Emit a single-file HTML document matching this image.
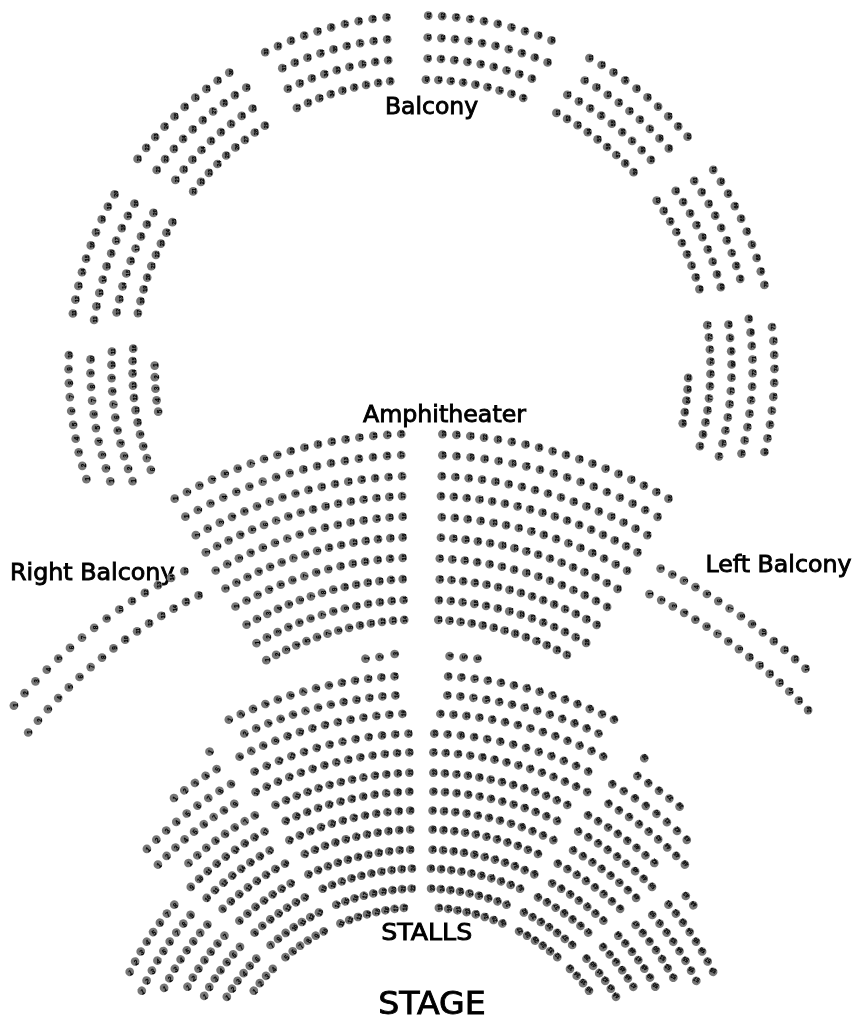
<!DOCTYPE html>
<html lang="en"><head><meta charset="utf-8"><title>Seating plan</title>
<style>
html,body{margin:0;padding:0;background:#fff}
svg{display:block;filter:grayscale(1)}
.s circle{fill:#777}
.s text{transform:rotate(-90deg) scaleX(.87);font:bold 6px "Liberation Sans","DejaVu Sans",sans-serif;fill:#000;stroke:#000;stroke-width:.25px;text-anchor:middle}
.s text.o{font-size:7.4px;stroke-width:.15px}
.l{font-family:"DejaVu Sans","Liberation Sans",sans-serif;fill:#000;stroke:#000;stroke-width:.9px}
</style></head><body>
<svg width="860" height="1020" viewBox="0 0 860 1020">
<text class="l" x="431.5" y="113.5" font-size="23.5" text-anchor="middle">Balcony</text>
<text class="l" x="363.0" y="421.8" font-size="23.5" text-anchor="start" textLength="163.0" lengthAdjust="spacingAndGlyphs">Amphitheater</text>
<text class="l" x="10.0" y="580.3" font-size="23.5" text-anchor="start" textLength="164.5" lengthAdjust="spacingAndGlyphs">Right Balcony</text>
<text class="l" x="705.5" y="572.3" font-size="23.5" text-anchor="start" textLength="146.0" lengthAdjust="spacingAndGlyphs">Left Balcony</text>
<text class="l" x="381.2" y="940.3" font-size="23.5" text-anchor="start" textLength="91.0" lengthAdjust="spacingAndGlyphs">STALLS</text>
<text class="l" x="378.2" y="1014.0" font-size="31.6" text-anchor="start" textLength="107.6" lengthAdjust="spacingAndGlyphs">STAGE</text>
<g class="s">
<g transform="translate(265.2 52.1)"><circle r="4.35"/><text x=".5" y="3.2">31</text></g>
<g transform="translate(278.0 46.1)"><circle r="4.35"/><text x=".5" y="3.2">32</text></g>
<g transform="translate(291.0 40.7)"><circle r="4.35"/><text x=".5" y="3.2">33</text></g>
<g transform="translate(304.2 35.7)"><circle r="4.35"/><text x=".5" y="3.2">34</text></g>
<g transform="translate(317.6 31.3)"><circle r="4.35"/><text x=".5" y="3.2">35</text></g>
<g transform="translate(331.2 27.4)"><circle r="4.35"/><text x=".5" y="3.2">36</text></g>
<g transform="translate(344.9 24.0)"><circle r="4.35"/><text x=".5" y="3.2">37</text></g>
<g transform="translate(358.7 21.2)"><circle r="4.35"/><text x=".5" y="3.2">38</text></g>
<g transform="translate(372.6 19.0)"><circle r="4.35"/><text x=".5" y="3.2">39</text></g>
<g transform="translate(386.6 17.3)"><circle r="4.35"/><text x=".5" y="3.2">40</text></g>
<g transform="translate(282.3 68.2)"><circle r="4.35"/><text x=".5" y="3.2">31</text></g>
<g transform="translate(294.8 62.7)"><circle r="4.35"/><text x=".5" y="3.2">32</text></g>
<g transform="translate(307.5 57.7)"><circle r="4.35"/><text x=".5" y="3.2">33</text></g>
<g transform="translate(320.5 53.3)"><circle r="4.35"/><text x=".5" y="3.2">34</text></g>
<g transform="translate(333.5 49.4)"><circle r="4.35"/><text x=".5" y="3.2">35</text></g>
<g transform="translate(346.8 46.0)"><circle r="4.35"/><text x=".5" y="3.2">36</text></g>
<g transform="translate(360.1 43.2)"><circle r="4.35"/><text x=".5" y="3.2">37</text></g>
<g transform="translate(373.6 41.0)"><circle r="4.35"/><text x=".5" y="3.2">38</text></g>
<g transform="translate(387.2 39.3)"><circle r="4.35"/><text x=".5" y="3.2">39</text></g>
<g transform="translate(287.9 88.7)"><circle r="4.35"/><text x=".5" y="3.2">31</text></g>
<g transform="translate(299.8 83.3)"><circle r="4.35"/><text x=".5" y="3.2">32</text></g>
<g transform="translate(311.9 78.4)"><circle r="4.35"/><text x=".5" y="3.2">33</text></g>
<g transform="translate(324.3 74.1)"><circle r="4.35"/><text x=".5" y="3.2">34</text></g>
<g transform="translate(336.8 70.2)"><circle r="4.35"/><text x=".5" y="3.2">35</text></g>
<g transform="translate(349.5 66.9)"><circle r="4.35"/><text x=".5" y="3.2">36</text></g>
<g transform="translate(362.3 64.1)"><circle r="4.35"/><text x=".5" y="3.2">37</text></g>
<g transform="translate(375.2 61.9)"><circle r="4.35"/><text x=".5" y="3.2">38</text></g>
<g transform="translate(388.2 60.2)"><circle r="4.35"/><text x=".5" y="3.2">39</text></g>
<g transform="translate(296.9 107.8)"><circle r="4.35"/><text x=".5" y="3.2">31</text></g>
<g transform="translate(308.0 102.8)"><circle r="4.35"/><text x=".5" y="3.2">32</text></g>
<g transform="translate(319.3 98.2)"><circle r="4.35"/><text x=".5" y="3.2">33</text></g>
<g transform="translate(330.8 94.1)"><circle r="4.35"/><text x=".5" y="3.2">34</text></g>
<g transform="translate(342.4 90.6)"><circle r="4.35"/><text x=".5" y="3.2">35</text></g>
<g transform="translate(354.2 87.5)"><circle r="4.35"/><text x=".5" y="3.2">36</text></g>
<g transform="translate(366.1 84.9)"><circle r="4.35"/><text x=".5" y="3.2">37</text></g>
<g transform="translate(378.2 82.8)"><circle r="4.35"/><text x=".5" y="3.2">38</text></g>
<g transform="translate(390.2 81.2)"><circle r="4.35"/><text x=".5" y="3.2">39</text></g>
<g transform="translate(428.2 15.7)"><circle r="4.35"/><text x=".5" y="3.2">41</text></g>
<g transform="translate(442.2 16.2)"><circle r="4.35"/><text x=".5" y="3.2">42</text></g>
<g transform="translate(456.2 17.3)"><circle r="4.35"/><text x=".5" y="3.2">43</text></g>
<g transform="translate(470.2 19.0)"><circle r="4.35"/><text x=".5" y="3.2">44</text></g>
<g transform="translate(484.0 21.2)"><circle r="4.35"/><text x=".5" y="3.2">45</text></g>
<g transform="translate(497.8 23.9)"><circle r="4.35"/><text x=".5" y="3.2">46</text></g>
<g transform="translate(511.5 27.3)"><circle r="4.35"/><text x=".5" y="3.2">47</text></g>
<g transform="translate(525.0 31.1)"><circle r="4.35"/><text x=".5" y="3.2">48</text></g>
<g transform="translate(538.3 35.5)"><circle r="4.35"/><text x=".5" y="3.2">49</text></g>
<g transform="translate(551.5 40.4)"><circle r="4.35"/><text x=".5" y="3.2">50</text></g>
<g transform="translate(427.7 37.5)"><circle r="4.35"/><text x=".5" y="3.2">41</text></g>
<g transform="translate(441.4 38.1)"><circle r="4.35"/><text x=".5" y="3.2">42</text></g>
<g transform="translate(455.0 39.2)"><circle r="4.35"/><text x=".5" y="3.2">43</text></g>
<g transform="translate(468.6 40.9)"><circle r="4.35"/><text x=".5" y="3.2">44</text></g>
<g transform="translate(482.1 43.1)"><circle r="4.35"/><text x=".5" y="3.2">45</text></g>
<g transform="translate(495.5 45.9)"><circle r="4.35"/><text x=".5" y="3.2">46</text></g>
<g transform="translate(508.8 49.2)"><circle r="4.35"/><text x=".5" y="3.2">47</text></g>
<g transform="translate(521.9 53.1)"><circle r="4.35"/><text x=".5" y="3.2">48</text></g>
<g transform="translate(534.8 57.5)"><circle r="4.35"/><text x=".5" y="3.2">49</text></g>
<g transform="translate(547.6 62.4)"><circle r="4.35"/><text x=".5" y="3.2">50</text></g>
<g transform="translate(427.7 58.5)"><circle r="4.35"/><text x=".5" y="3.2">41</text></g>
<g transform="translate(441.0 59.0)"><circle r="4.35"/><text x=".5" y="3.2">42</text></g>
<g transform="translate(454.3 60.2)"><circle r="4.35"/><text x=".5" y="3.2">43</text></g>
<g transform="translate(467.5 61.9)"><circle r="4.35"/><text x=".5" y="3.2">44</text></g>
<g transform="translate(480.7 64.1)"><circle r="4.35"/><text x=".5" y="3.2">45</text></g>
<g transform="translate(493.7 66.9)"><circle r="4.35"/><text x=".5" y="3.2">46</text></g>
<g transform="translate(506.6 70.3)"><circle r="4.35"/><text x=".5" y="3.2">47</text></g>
<g transform="translate(519.3 74.2)"><circle r="4.35"/><text x=".5" y="3.2">48</text></g>
<g transform="translate(531.9 78.7)"><circle r="4.35"/><text x=".5" y="3.2">49</text></g>
<g transform="translate(425.9 79.6)"><circle r="4.35"/><text x=".5" y="3.2">41</text></g>
<g transform="translate(438.4 80.0)"><circle r="4.35"/><text x=".5" y="3.2">42</text></g>
<g transform="translate(450.8 81.0)"><circle r="4.35"/><text x=".5" y="3.2">43</text></g>
<g transform="translate(463.1 82.5)"><circle r="4.35"/><text x=".5" y="3.2">44</text></g>
<g transform="translate(475.4 84.6)"><circle r="4.35"/><text x=".5" y="3.2">45</text></g>
<g transform="translate(487.5 87.2)"><circle r="4.35"/><text x=".5" y="3.2">46</text></g>
<g transform="translate(499.6 90.3)"><circle r="4.35"/><text x=".5" y="3.2">47</text></g>
<g transform="translate(511.5 93.9)"><circle r="4.35"/><text x=".5" y="3.2">48</text></g>
<g transform="translate(523.2 98.0)"><circle r="4.35"/><text x=".5" y="3.2">49</text></g>
<g transform="translate(137.6 158.9)"><circle r="4.35"/><text x=".5" y="3.2">21</text></g>
<g transform="translate(146.2 147.8)"><circle r="4.35"/><text x=".5" y="3.2">22</text></g>
<g transform="translate(155.2 137.0)"><circle r="4.35"/><text x=".5" y="3.2">23</text></g>
<g transform="translate(164.6 126.6)"><circle r="4.35"/><text x=".5" y="3.2">24</text></g>
<g transform="translate(174.5 116.5)"><circle r="4.35"/><text x=".5" y="3.2">25</text></g>
<g transform="translate(184.7 106.9)"><circle r="4.35"/><text x=".5" y="3.2">26</text></g>
<g transform="translate(195.3 97.6)"><circle r="4.35"/><text x=".5" y="3.2">27</text></g>
<g transform="translate(206.3 88.8)"><circle r="4.35"/><text x=".5" y="3.2">28</text></g>
<g transform="translate(217.6 80.5)"><circle r="4.35"/><text x=".5" y="3.2">29</text></g>
<g transform="translate(229.3 72.6)"><circle r="4.35"/><text x=".5" y="3.2">30</text></g>
<g transform="translate(156.7 169.9)"><circle r="4.35"/><text x=".5" y="3.2">21</text></g>
<g transform="translate(165.1 159.2)"><circle r="4.35"/><text x=".5" y="3.2">22</text></g>
<g transform="translate(173.9 148.8)"><circle r="4.35"/><text x=".5" y="3.2">23</text></g>
<g transform="translate(183.1 138.9)"><circle r="4.35"/><text x=".5" y="3.2">24</text></g>
<g transform="translate(192.8 129.3)"><circle r="4.35"/><text x=".5" y="3.2">25</text></g>
<g transform="translate(202.8 120.1)"><circle r="4.35"/><text x=".5" y="3.2">26</text></g>
<g transform="translate(213.1 111.3)"><circle r="4.35"/><text x=".5" y="3.2">27</text></g>
<g transform="translate(223.9 103.0)"><circle r="4.35"/><text x=".5" y="3.2">28</text></g>
<g transform="translate(234.9 95.1)"><circle r="4.35"/><text x=".5" y="3.2">29</text></g>
<g transform="translate(246.3 87.7)"><circle r="4.35"/><text x=".5" y="3.2">30</text></g>
<g transform="translate(175.4 179.8)"><circle r="4.35"/><text x=".5" y="3.2">21</text></g>
<g transform="translate(183.7 169.5)"><circle r="4.35"/><text x=".5" y="3.2">22</text></g>
<g transform="translate(192.4 159.6)"><circle r="4.35"/><text x=".5" y="3.2">23</text></g>
<g transform="translate(201.5 150.0)"><circle r="4.35"/><text x=".5" y="3.2">24</text></g>
<g transform="translate(211.0 140.9)"><circle r="4.35"/><text x=".5" y="3.2">25</text></g>
<g transform="translate(220.9 132.1)"><circle r="4.35"/><text x=".5" y="3.2">26</text></g>
<g transform="translate(231.1 123.8)"><circle r="4.35"/><text x=".5" y="3.2">27</text></g>
<g transform="translate(241.7 115.9)"><circle r="4.35"/><text x=".5" y="3.2">28</text></g>
<g transform="translate(252.6 108.5)"><circle r="4.35"/><text x=".5" y="3.2">29</text></g>
<g transform="translate(193.2 191.4)"><circle r="4.35"/><text x=".5" y="3.2">21</text></g>
<g transform="translate(200.9 181.9)"><circle r="4.35"/><text x=".5" y="3.2">22</text></g>
<g transform="translate(208.9 172.8)"><circle r="4.35"/><text x=".5" y="3.2">23</text></g>
<g transform="translate(217.4 164.0)"><circle r="4.35"/><text x=".5" y="3.2">24</text></g>
<g transform="translate(226.2 155.5)"><circle r="4.35"/><text x=".5" y="3.2">25</text></g>
<g transform="translate(235.4 147.4)"><circle r="4.35"/><text x=".5" y="3.2">26</text></g>
<g transform="translate(244.9 139.8)"><circle r="4.35"/><text x=".5" y="3.2">27</text></g>
<g transform="translate(254.8 132.5)"><circle r="4.35"/><text x=".5" y="3.2">28</text></g>
<g transform="translate(264.9 125.7)"><circle r="4.35"/><text x=".5" y="3.2">29</text></g>
<g transform="translate(589.4 58.1)"><circle r="4.35"/><text x=".5" y="3.2">51</text></g>
<g transform="translate(601.6 65.0)"><circle r="4.35"/><text x=".5" y="3.2">52</text></g>
<g transform="translate(613.5 72.4)"><circle r="4.35"/><text x=".5" y="3.2">53</text></g>
<g transform="translate(625.2 80.3)"><circle r="4.35"/><text x=".5" y="3.2">54</text></g>
<g transform="translate(636.5 88.6)"><circle r="4.35"/><text x=".5" y="3.2">55</text></g>
<g transform="translate(647.5 97.4)"><circle r="4.35"/><text x=".5" y="3.2">56</text></g>
<g transform="translate(658.1 106.6)"><circle r="4.35"/><text x=".5" y="3.2">57</text></g>
<g transform="translate(668.3 116.3)"><circle r="4.35"/><text x=".5" y="3.2">58</text></g>
<g transform="translate(678.2 126.3)"><circle r="4.35"/><text x=".5" y="3.2">59</text></g>
<g transform="translate(687.6 136.7)"><circle r="4.35"/><text x=".5" y="3.2">60</text></g>
<g transform="translate(584.7 80.5)"><circle r="4.35"/><text x=".5" y="3.2">51</text></g>
<g transform="translate(596.4 87.4)"><circle r="4.35"/><text x=".5" y="3.2">52</text></g>
<g transform="translate(607.7 94.8)"><circle r="4.35"/><text x=".5" y="3.2">53</text></g>
<g transform="translate(618.8 102.7)"><circle r="4.35"/><text x=".5" y="3.2">54</text></g>
<g transform="translate(629.5 111.0)"><circle r="4.35"/><text x=".5" y="3.2">55</text></g>
<g transform="translate(639.9 119.7)"><circle r="4.35"/><text x=".5" y="3.2">56</text></g>
<g transform="translate(649.9 128.9)"><circle r="4.35"/><text x=".5" y="3.2">57</text></g>
<g transform="translate(659.5 138.4)"><circle r="4.35"/><text x=".5" y="3.2">58</text></g>
<g transform="translate(668.8 148.4)"><circle r="4.35"/><text x=".5" y="3.2">59</text></g>
<g transform="translate(567.3 94.8)"><circle r="4.35"/><text x=".5" y="3.2">51</text></g>
<g transform="translate(578.9 101.3)"><circle r="4.35"/><text x=".5" y="3.2">52</text></g>
<g transform="translate(590.2 108.3)"><circle r="4.35"/><text x=".5" y="3.2">53</text></g>
<g transform="translate(601.2 115.7)"><circle r="4.35"/><text x=".5" y="3.2">54</text></g>
<g transform="translate(611.8 123.7)"><circle r="4.35"/><text x=".5" y="3.2">55</text></g>
<g transform="translate(622.2 132.1)"><circle r="4.35"/><text x=".5" y="3.2">56</text></g>
<g transform="translate(632.1 140.9)"><circle r="4.35"/><text x=".5" y="3.2">57</text></g>
<g transform="translate(641.7 150.1)"><circle r="4.35"/><text x=".5" y="3.2">58</text></g>
<g transform="translate(650.9 159.8)"><circle r="4.35"/><text x=".5" y="3.2">59</text></g>
<g transform="translate(556.4 112.9)"><circle r="4.35"/><text x=".5" y="3.2">51</text></g>
<g transform="translate(567.1 118.9)"><circle r="4.35"/><text x=".5" y="3.2">52</text></g>
<g transform="translate(577.6 125.2)"><circle r="4.35"/><text x=".5" y="3.2">53</text></g>
<g transform="translate(587.7 132.1)"><circle r="4.35"/><text x=".5" y="3.2">54</text></g>
<g transform="translate(597.6 139.3)"><circle r="4.35"/><text x=".5" y="3.2">55</text></g>
<g transform="translate(607.1 147.0)"><circle r="4.35"/><text x=".5" y="3.2">56</text></g>
<g transform="translate(616.3 155.0)"><circle r="4.35"/><text x=".5" y="3.2">57</text></g>
<g transform="translate(625.2 163.4)"><circle r="4.35"/><text x=".5" y="3.2">58</text></g>
<g transform="translate(633.6 172.2)"><circle r="4.35"/><text x=".5" y="3.2">59</text></g>
<g transform="translate(72.9 313.5)"><circle r="4.35"/><text x=".5" y="3.2">11</text></g>
<g transform="translate(75.4 299.6)"><circle r="4.35"/><text x=".5" y="3.2">12</text></g>
<g transform="translate(78.4 285.9)"><circle r="4.35"/><text x=".5" y="3.2">13</text></g>
<g transform="translate(82.0 272.2)"><circle r="4.35"/><text x=".5" y="3.2">14</text></g>
<g transform="translate(86.1 258.7)"><circle r="4.35"/><text x=".5" y="3.2">15</text></g>
<g transform="translate(90.8 245.4)"><circle r="4.35"/><text x=".5" y="3.2">16</text></g>
<g transform="translate(96.0 232.3)"><circle r="4.35"/><text x=".5" y="3.2">17</text></g>
<g transform="translate(101.7 219.4)"><circle r="4.35"/><text x=".5" y="3.2">18</text></g>
<g transform="translate(107.9 206.7)"><circle r="4.35"/><text x=".5" y="3.2">19</text></g>
<g transform="translate(114.6 194.3)"><circle r="4.35"/><text x=".5" y="3.2">20</text></g>
<g transform="translate(94.1 319.9)"><circle r="4.35"/><text x=".5" y="3.2">11</text></g>
<g transform="translate(96.4 306.3)"><circle r="4.35"/><text x=".5" y="3.2">12</text></g>
<g transform="translate(99.3 292.9)"><circle r="4.35"/><text x=".5" y="3.2">13</text></g>
<g transform="translate(102.7 279.6)"><circle r="4.35"/><text x=".5" y="3.2">14</text></g>
<g transform="translate(106.6 266.4)"><circle r="4.35"/><text x=".5" y="3.2">15</text></g>
<g transform="translate(111.2 253.4)"><circle r="4.35"/><text x=".5" y="3.2">16</text></g>
<g transform="translate(116.2 240.6)"><circle r="4.35"/><text x=".5" y="3.2">17</text></g>
<g transform="translate(121.8 228.1)"><circle r="4.35"/><text x=".5" y="3.2">18</text></g>
<g transform="translate(127.9 215.8)"><circle r="4.35"/><text x=".5" y="3.2">19</text></g>
<g transform="translate(134.5 203.7)"><circle r="4.35"/><text x=".5" y="3.2">20</text></g>
<g transform="translate(116.6 312.3)"><circle r="4.35"/><text x=".5" y="3.2">12</text></g>
<g transform="translate(119.3 299.2)"><circle r="4.35"/><text x=".5" y="3.2">13</text></g>
<g transform="translate(122.5 286.3)"><circle r="4.35"/><text x=".5" y="3.2">14</text></g>
<g transform="translate(126.3 273.5)"><circle r="4.35"/><text x=".5" y="3.2">15</text></g>
<g transform="translate(130.7 260.9)"><circle r="4.35"/><text x=".5" y="3.2">16</text></g>
<g transform="translate(135.6 248.5)"><circle r="4.35"/><text x=".5" y="3.2">17</text></g>
<g transform="translate(141.0 236.4)"><circle r="4.35"/><text x=".5" y="3.2">18</text></g>
<g transform="translate(146.9 224.4)"><circle r="4.35"/><text x=".5" y="3.2">19</text></g>
<g transform="translate(153.4 212.8)"><circle r="4.35"/><text x=".5" y="3.2">20</text></g>
<g transform="translate(137.9 313.1)"><circle r="4.35"/><text x=".5" y="3.2">17</text></g>
<g transform="translate(140.5 301.1)"><circle r="4.35"/><text x=".5" y="3.2">18</text></g>
<g transform="translate(143.6 289.3)"><circle r="4.35"/><text x=".5" y="3.2">19</text></g>
<g transform="translate(147.2 277.6)"><circle r="4.35"/><text x=".5" y="3.2">20</text></g>
<g transform="translate(151.3 266.1)"><circle r="4.35"/><text x=".5" y="3.2">21</text></g>
<g transform="translate(155.9 254.8)"><circle r="4.35"/><text x=".5" y="3.2">22</text></g>
<g transform="translate(160.9 243.6)"><circle r="4.35"/><text x=".5" y="3.2">23</text></g>
<g transform="translate(166.4 232.7)"><circle r="4.35"/><text x=".5" y="3.2">24</text></g>
<g transform="translate(172.4 222.1)"><circle r="4.35"/><text x=".5" y="3.2">25</text></g>
<g transform="translate(713.2 169.8)"><circle r="4.35"/><text x=".5" y="3.2">61</text></g>
<g transform="translate(720.9 181.6)"><circle r="4.35"/><text x=".5" y="3.2">62</text></g>
<g transform="translate(728.1 193.7)"><circle r="4.35"/><text x=".5" y="3.2">63</text></g>
<g transform="translate(734.8 206.1)"><circle r="4.35"/><text x=".5" y="3.2">64</text></g>
<g transform="translate(741.1 218.7)"><circle r="4.35"/><text x=".5" y="3.2">65</text></g>
<g transform="translate(746.8 231.5)"><circle r="4.35"/><text x=".5" y="3.2">66</text></g>
<g transform="translate(752.0 244.6)"><circle r="4.35"/><text x=".5" y="3.2">67</text></g>
<g transform="translate(756.7 257.9)"><circle r="4.35"/><text x=".5" y="3.2">68</text></g>
<g transform="translate(760.8 271.3)"><circle r="4.35"/><text x=".5" y="3.2">69</text></g>
<g transform="translate(764.4 284.9)"><circle r="4.35"/><text x=".5" y="3.2">70</text></g>
<g transform="translate(694.2 180.8)"><circle r="4.35"/><text x=".5" y="3.2">61</text></g>
<g transform="translate(701.7 192.1)"><circle r="4.35"/><text x=".5" y="3.2">62</text></g>
<g transform="translate(708.7 203.8)"><circle r="4.35"/><text x=".5" y="3.2">63</text></g>
<g transform="translate(715.2 215.7)"><circle r="4.35"/><text x=".5" y="3.2">64</text></g>
<g transform="translate(721.2 227.9)"><circle r="4.35"/><text x=".5" y="3.2">65</text></g>
<g transform="translate(726.8 240.3)"><circle r="4.35"/><text x=".5" y="3.2">66</text></g>
<g transform="translate(731.8 253.0)"><circle r="4.35"/><text x=".5" y="3.2">67</text></g>
<g transform="translate(736.2 265.8)"><circle r="4.35"/><text x=".5" y="3.2">68</text></g>
<g transform="translate(740.2 278.8)"><circle r="4.35"/><text x=".5" y="3.2">69</text></g>
<g transform="translate(675.7 190.9)"><circle r="4.35"/><text x=".5" y="3.2">61</text></g>
<g transform="translate(683.1 202.0)"><circle r="4.35"/><text x=".5" y="3.2">62</text></g>
<g transform="translate(690.1 213.4)"><circle r="4.35"/><text x=".5" y="3.2">63</text></g>
<g transform="translate(696.5 225.1)"><circle r="4.35"/><text x=".5" y="3.2">64</text></g>
<g transform="translate(702.4 237.1)"><circle r="4.35"/><text x=".5" y="3.2">65</text></g>
<g transform="translate(707.8 249.3)"><circle r="4.35"/><text x=".5" y="3.2">66</text></g>
<g transform="translate(712.7 261.7)"><circle r="4.35"/><text x=".5" y="3.2">67</text></g>
<g transform="translate(717.0 274.4)"><circle r="4.35"/><text x=".5" y="3.2">68</text></g>
<g transform="translate(720.8 287.2)"><circle r="4.35"/><text x=".5" y="3.2">69</text></g>
<g transform="translate(656.7 200.6)"><circle r="4.35"/><text x=".5" y="3.2">61</text></g>
<g transform="translate(663.7 210.8)"><circle r="4.35"/><text x=".5" y="3.2">62</text></g>
<g transform="translate(670.2 221.3)"><circle r="4.35"/><text x=".5" y="3.2">63</text></g>
<g transform="translate(676.3 232.0)"><circle r="4.35"/><text x=".5" y="3.2">64</text></g>
<g transform="translate(681.9 243.0)"><circle r="4.35"/><text x=".5" y="3.2">65</text></g>
<g transform="translate(687.0 254.3)"><circle r="4.35"/><text x=".5" y="3.2">66</text></g>
<g transform="translate(691.6 265.7)"><circle r="4.35"/><text x=".5" y="3.2">67</text></g>
<g transform="translate(695.8 277.3)"><circle r="4.35"/><text x=".5" y="3.2">68</text></g>
<g transform="translate(699.4 289.1)"><circle r="4.35"/><text x=".5" y="3.2">69</text></g>
<g transform="translate(68.9 355.2)"><circle r="4.35"/><text x=".5" y="3.2">10</text></g>
<g transform="translate(68.6 369.2)"><circle r="4.35"/><text class="o" x=".4" y="3.7">9</text></g>
<g transform="translate(68.9 383.2)"><circle r="4.35"/><text class="o" x=".4" y="3.7">8</text></g>
<g transform="translate(69.8 397.1)"><circle r="4.35"/><text class="o" x=".4" y="3.7">7</text></g>
<g transform="translate(71.2 411.0)"><circle r="4.35"/><text class="o" x=".4" y="3.7">6</text></g>
<g transform="translate(73.2 424.9)"><circle r="4.35"/><text class="o" x=".4" y="3.7">5</text></g>
<g transform="translate(75.7 438.7)"><circle r="4.35"/><text class="o" x=".4" y="3.7">4</text></g>
<g transform="translate(78.7 452.3)"><circle r="4.35"/><text class="o" x=".4" y="3.7">3</text></g>
<g transform="translate(82.3 465.8)"><circle r="4.35"/><text class="o" x=".4" y="3.7">2</text></g>
<g transform="translate(86.4 479.2)"><circle r="4.35"/><text class="o" x=".4" y="3.7">1</text></g>
<g transform="translate(90.6 359.4)"><circle r="4.35"/><text x=".5" y="3.2">10</text></g>
<g transform="translate(90.5 373.2)"><circle r="4.35"/><text class="o" x=".4" y="3.7">9</text></g>
<g transform="translate(91.0 387.0)"><circle r="4.35"/><text class="o" x=".4" y="3.7">8</text></g>
<g transform="translate(92.1 400.7)"><circle r="4.35"/><text class="o" x=".4" y="3.7">7</text></g>
<g transform="translate(93.7 414.4)"><circle r="4.35"/><text class="o" x=".4" y="3.7">6</text></g>
<g transform="translate(95.9 428.1)"><circle r="4.35"/><text class="o" x=".4" y="3.7">5</text></g>
<g transform="translate(98.7 441.6)"><circle r="4.35"/><text class="o" x=".4" y="3.7">4</text></g>
<g transform="translate(102.0 455.0)"><circle r="4.35"/><text class="o" x=".4" y="3.7">3</text></g>
<g transform="translate(105.9 468.3)"><circle r="4.35"/><text class="o" x=".4" y="3.7">2</text></g>
<g transform="translate(110.3 481.3)"><circle r="4.35"/><text class="o" x=".4" y="3.7">1</text></g>
<g transform="translate(111.9 351.7)"><circle r="4.35"/><text x=".5" y="3.2">11</text></g>
<g transform="translate(111.5 364.9)"><circle r="4.35"/><text x=".5" y="3.2">10</text></g>
<g transform="translate(111.6 378.1)"><circle r="4.35"/><text class="o" x=".4" y="3.7">9</text></g>
<g transform="translate(112.3 391.3)"><circle r="4.35"/><text class="o" x=".4" y="3.7">8</text></g>
<g transform="translate(113.5 404.5)"><circle r="4.35"/><text class="o" x=".4" y="3.7">7</text></g>
<g transform="translate(115.3 417.5)"><circle r="4.35"/><text class="o" x=".4" y="3.7">6</text></g>
<g transform="translate(117.7 430.5)"><circle r="4.35"/><text class="o" x=".4" y="3.7">5</text></g>
<g transform="translate(120.6 443.4)"><circle r="4.35"/><text class="o" x=".4" y="3.7">4</text></g>
<g transform="translate(124.1 456.2)"><circle r="4.35"/><text class="o" x=".4" y="3.7">3</text></g>
<g transform="translate(128.1 468.8)"><circle r="4.35"/><text class="o" x=".4" y="3.7">2</text></g>
<g transform="translate(132.6 481.2)"><circle r="4.35"/><text class="o" x=".4" y="3.7">1</text></g>
<g transform="translate(133.2 348.7)"><circle r="4.35"/><text x=".5" y="3.2">16</text></g>
<g transform="translate(132.6 361.0)"><circle r="4.35"/><text x=".5" y="3.2">15</text></g>
<g transform="translate(132.6 373.3)"><circle r="4.35"/><text x=".5" y="3.2">14</text></g>
<g transform="translate(133.0 385.6)"><circle r="4.35"/><text x=".5" y="3.2">13</text></g>
<g transform="translate(134.0 397.9)"><circle r="4.35"/><text x=".5" y="3.2">12</text></g>
<g transform="translate(135.5 410.1)"><circle r="4.35"/><text x=".5" y="3.2">11</text></g>
<g transform="translate(137.6 422.3)"><circle r="4.35"/><text x=".5" y="3.2">10</text></g>
<g transform="translate(140.1 434.4)"><circle r="4.35"/><text class="o" x=".4" y="3.7">9</text></g>
<g transform="translate(143.2 446.3)"><circle r="4.35"/><text class="o" x=".4" y="3.7">8</text></g>
<g transform="translate(146.8 458.1)"><circle r="4.35"/><text class="o" x=".4" y="3.7">7</text></g>
<g transform="translate(150.8 469.8)"><circle r="4.35"/><text class="o" x=".4" y="3.7">6</text></g>
<g transform="translate(154.7 365.6)"><circle r="4.35"/><text class="o" x=".4" y="3.7">1</text></g>
<g transform="translate(154.8 377.2)"><circle r="4.35"/><text class="o" x=".4" y="3.7">2</text></g>
<g transform="translate(155.5 388.7)"><circle r="4.35"/><text class="o" x=".4" y="3.7">3</text></g>
<g transform="translate(156.6 400.3)"><circle r="4.35"/><text class="o" x=".4" y="3.7">4</text></g>
<g transform="translate(158.2 411.7)"><circle r="4.35"/><text class="o" x=".4" y="3.7">5</text></g>
<g transform="translate(772.0 327.0)"><circle r="4.35"/><text x=".5" y="3.2">71</text></g>
<g transform="translate(773.4 340.9)"><circle r="4.35"/><text x=".5" y="3.2">72</text></g>
<g transform="translate(774.2 354.9)"><circle r="4.35"/><text x=".5" y="3.2">73</text></g>
<g transform="translate(774.5 368.8)"><circle r="4.35"/><text x=".5" y="3.2">74</text></g>
<g transform="translate(774.2 382.8)"><circle r="4.35"/><text x=".5" y="3.2">75</text></g>
<g transform="translate(773.3 396.8)"><circle r="4.35"/><text x=".5" y="3.2">76</text></g>
<g transform="translate(771.9 410.7)"><circle r="4.35"/><text x=".5" y="3.2">77</text></g>
<g transform="translate(770.0 424.6)"><circle r="4.35"/><text x=".5" y="3.2">78</text></g>
<g transform="translate(767.5 438.3)"><circle r="4.35"/><text x=".5" y="3.2">79</text></g>
<g transform="translate(764.5 452.0)"><circle r="4.35"/><text x=".5" y="3.2">80</text></g>
<g transform="translate(748.8 318.9)"><circle r="4.35"/><text x=".5" y="3.2">68</text></g>
<g transform="translate(750.6 332.4)"><circle r="4.35"/><text x=".5" y="3.2">69</text></g>
<g transform="translate(751.8 345.9)"><circle r="4.35"/><text x=".5" y="3.2">70</text></g>
<g transform="translate(752.5 359.5)"><circle r="4.35"/><text x=".5" y="3.2">71</text></g>
<g transform="translate(752.6 373.1)"><circle r="4.35"/><text x=".5" y="3.2">72</text></g>
<g transform="translate(752.1 386.6)"><circle r="4.35"/><text x=".5" y="3.2">73</text></g>
<g transform="translate(751.1 400.2)"><circle r="4.35"/><text x=".5" y="3.2">74</text></g>
<g transform="translate(749.5 413.7)"><circle r="4.35"/><text x=".5" y="3.2">75</text></g>
<g transform="translate(747.4 427.1)"><circle r="4.35"/><text x=".5" y="3.2">76</text></g>
<g transform="translate(744.7 440.4)"><circle r="4.35"/><text x=".5" y="3.2">77</text></g>
<g transform="translate(741.5 453.6)"><circle r="4.35"/><text x=".5" y="3.2">78</text></g>
<g transform="translate(728.5 324.7)"><circle r="4.35"/><text x=".5" y="3.2">66</text></g>
<g transform="translate(730.1 337.9)"><circle r="4.35"/><text x=".5" y="3.2">67</text></g>
<g transform="translate(731.2 351.2)"><circle r="4.35"/><text x=".5" y="3.2">68</text></g>
<g transform="translate(731.6 364.4)"><circle r="4.35"/><text x=".5" y="3.2">69</text></g>
<g transform="translate(731.5 377.7)"><circle r="4.35"/><text x=".5" y="3.2">70</text></g>
<g transform="translate(730.8 391.0)"><circle r="4.35"/><text x=".5" y="3.2">71</text></g>
<g transform="translate(729.6 404.2)"><circle r="4.35"/><text x=".5" y="3.2">72</text></g>
<g transform="translate(727.8 417.4)"><circle r="4.35"/><text x=".5" y="3.2">73</text></g>
<g transform="translate(725.4 430.5)"><circle r="4.35"/><text x=".5" y="3.2">74</text></g>
<g transform="translate(722.5 443.5)"><circle r="4.35"/><text x=".5" y="3.2">75</text></g>
<g transform="translate(719.0 456.3)"><circle r="4.35"/><text x=".5" y="3.2">76</text></g>
<g transform="translate(707.3 325.2)"><circle r="4.35"/><text x=".5" y="3.2">71</text></g>
<g transform="translate(708.9 337.3)"><circle r="4.35"/><text x=".5" y="3.2">72</text></g>
<g transform="translate(709.9 349.5)"><circle r="4.35"/><text x=".5" y="3.2">73</text></g>
<g transform="translate(710.5 361.7)"><circle r="4.35"/><text x=".5" y="3.2">74</text></g>
<g transform="translate(710.5 373.9)"><circle r="4.35"/><text x=".5" y="3.2">75</text></g>
<g transform="translate(710.0 386.1)"><circle r="4.35"/><text x=".5" y="3.2">76</text></g>
<g transform="translate(709.0 398.3)"><circle r="4.35"/><text x=".5" y="3.2">77</text></g>
<g transform="translate(707.5 410.4)"><circle r="4.35"/><text x=".5" y="3.2">78</text></g>
<g transform="translate(705.5 422.4)"><circle r="4.35"/><text x=".5" y="3.2">79</text></g>
<g transform="translate(703.0 434.4)"><circle r="4.35"/><text x=".5" y="3.2">80</text></g>
<g transform="translate(699.9 446.2)"><circle r="4.35"/><text x=".5" y="3.2">81</text></g>
<g transform="translate(688.2 377.9)"><circle r="4.35"/><text x=".5" y="3.2">82</text></g>
<g transform="translate(687.6 389.4)"><circle r="4.35"/><text x=".5" y="3.2">83</text></g>
<g transform="translate(686.4 400.7)"><circle r="4.35"/><text x=".5" y="3.2">84</text></g>
<g transform="translate(684.8 412.1)"><circle r="4.35"/><text x=".5" y="3.2">85</text></g>
<g transform="translate(682.7 423.3)"><circle r="4.35"/><text x=".5" y="3.2">86</text></g>
<g transform="translate(174.7 498.7)"><circle r="4.35"/><text class="o" x=".4" y="3.7">1</text></g>
<g transform="translate(186.9 492.0)"><circle r="4.35"/><text class="o" x=".4" y="3.7">2</text></g>
<g transform="translate(199.4 485.6)"><circle r="4.35"/><text class="o" x=".4" y="3.7">3</text></g>
<g transform="translate(212.0 479.6)"><circle r="4.35"/><text class="o" x=".4" y="3.7">4</text></g>
<g transform="translate(224.8 473.9)"><circle r="4.35"/><text class="o" x=".4" y="3.7">5</text></g>
<g transform="translate(237.7 468.6)"><circle r="4.35"/><text class="o" x=".4" y="3.7">6</text></g>
<g transform="translate(250.8 463.6)"><circle r="4.35"/><text class="o" x=".4" y="3.7">7</text></g>
<g transform="translate(264.0 459.0)"><circle r="4.35"/><text class="o" x=".4" y="3.7">8</text></g>
<g transform="translate(277.4 454.8)"><circle r="4.35"/><text class="o" x=".4" y="3.7">9</text></g>
<g transform="translate(290.8 451.0)"><circle r="4.35"/><text x=".5" y="3.2">10</text></g>
<g transform="translate(304.4 447.5)"><circle r="4.35"/><text x=".5" y="3.2">11</text></g>
<g transform="translate(318.0 444.4)"><circle r="4.35"/><text x=".5" y="3.2">12</text></g>
<g transform="translate(331.8 441.7)"><circle r="4.35"/><text x=".5" y="3.2">13</text></g>
<g transform="translate(345.6 439.4)"><circle r="4.35"/><text x=".5" y="3.2">14</text></g>
<g transform="translate(359.4 437.5)"><circle r="4.35"/><text x=".5" y="3.2">15</text></g>
<g transform="translate(373.3 435.9)"><circle r="4.35"/><text x=".5" y="3.2">16</text></g>
<g transform="translate(387.3 434.8)"><circle r="4.35"/><text x=".5" y="3.2">17</text></g>
<g transform="translate(401.2 434.0)"><circle r="4.35"/><text x=".5" y="3.2">18</text></g>
<g transform="translate(185.4 516.7)"><circle r="4.35"/><text class="o" x=".4" y="3.7">1</text></g>
<g transform="translate(197.8 510.0)"><circle r="4.35"/><text class="o" x=".4" y="3.7">2</text></g>
<g transform="translate(210.5 503.5)"><circle r="4.35"/><text class="o" x=".4" y="3.7">3</text></g>
<g transform="translate(223.3 497.5)"><circle r="4.35"/><text class="o" x=".4" y="3.7">4</text></g>
<g transform="translate(236.3 491.8)"><circle r="4.35"/><text class="o" x=".4" y="3.7">5</text></g>
<g transform="translate(249.4 486.6)"><circle r="4.35"/><text class="o" x=".4" y="3.7">6</text></g>
<g transform="translate(262.7 481.7)"><circle r="4.35"/><text class="o" x=".4" y="3.7">7</text></g>
<g transform="translate(276.1 477.2)"><circle r="4.35"/><text class="o" x=".4" y="3.7">8</text></g>
<g transform="translate(289.7 473.1)"><circle r="4.35"/><text class="o" x=".4" y="3.7">9</text></g>
<g transform="translate(303.3 469.4)"><circle r="4.35"/><text x=".5" y="3.2">10</text></g>
<g transform="translate(317.1 466.1)"><circle r="4.35"/><text x=".5" y="3.2">11</text></g>
<g transform="translate(331.0 463.2)"><circle r="4.35"/><text x=".5" y="3.2">12</text></g>
<g transform="translate(344.9 460.8)"><circle r="4.35"/><text x=".5" y="3.2">13</text></g>
<g transform="translate(358.9 458.7)"><circle r="4.35"/><text x=".5" y="3.2">14</text></g>
<g transform="translate(373.0 457.1)"><circle r="4.35"/><text x=".5" y="3.2">15</text></g>
<g transform="translate(387.1 455.8)"><circle r="4.35"/><text x=".5" y="3.2">16</text></g>
<g transform="translate(401.2 455.0)"><circle r="4.35"/><text x=".5" y="3.2">17</text></g>
<g transform="translate(195.8 535.2)"><circle r="4.35"/><text class="o" x=".4" y="3.7">1</text></g>
<g transform="translate(207.7 528.7)"><circle r="4.35"/><text class="o" x=".4" y="3.7">2</text></g>
<g transform="translate(219.8 522.6)"><circle r="4.35"/><text class="o" x=".4" y="3.7">3</text></g>
<g transform="translate(232.0 516.8)"><circle r="4.35"/><text class="o" x=".4" y="3.7">4</text></g>
<g transform="translate(244.4 511.4)"><circle r="4.35"/><text class="o" x=".4" y="3.7">5</text></g>
<g transform="translate(257.0 506.3)"><circle r="4.35"/><text class="o" x=".4" y="3.7">6</text></g>
<g transform="translate(269.7 501.7)"><circle r="4.35"/><text class="o" x=".4" y="3.7">7</text></g>
<g transform="translate(282.5 497.4)"><circle r="4.35"/><text class="o" x=".4" y="3.7">8</text></g>
<g transform="translate(295.5 493.5)"><circle r="4.35"/><text class="o" x=".4" y="3.7">9</text></g>
<g transform="translate(308.5 489.9)"><circle r="4.35"/><text x=".5" y="3.2">10</text></g>
<g transform="translate(321.7 486.8)"><circle r="4.35"/><text x=".5" y="3.2">11</text></g>
<g transform="translate(335.0 484.0)"><circle r="4.35"/><text x=".5" y="3.2">12</text></g>
<g transform="translate(348.3 481.7)"><circle r="4.35"/><text x=".5" y="3.2">13</text></g>
<g transform="translate(361.7 479.7)"><circle r="4.35"/><text x=".5" y="3.2">14</text></g>
<g transform="translate(375.1 478.1)"><circle r="4.35"/><text x=".5" y="3.2">15</text></g>
<g transform="translate(388.6 477.0)"><circle r="4.35"/><text x=".5" y="3.2">16</text></g>
<g transform="translate(402.1 476.2)"><circle r="4.35"/><text x=".5" y="3.2">17</text></g>
<g transform="translate(205.8 552.3)"><circle r="4.35"/><text class="o" x=".4" y="3.7">1</text></g>
<g transform="translate(217.1 546.2)"><circle r="4.35"/><text class="o" x=".4" y="3.7">2</text></g>
<g transform="translate(228.6 540.3)"><circle r="4.35"/><text class="o" x=".4" y="3.7">3</text></g>
<g transform="translate(240.3 534.8)"><circle r="4.35"/><text class="o" x=".4" y="3.7">4</text></g>
<g transform="translate(252.1 529.7)"><circle r="4.35"/><text class="o" x=".4" y="3.7">5</text></g>
<g transform="translate(264.0 524.9)"><circle r="4.35"/><text class="o" x=".4" y="3.7">6</text></g>
<g transform="translate(276.1 520.5)"><circle r="4.35"/><text class="o" x=".4" y="3.7">7</text></g>
<g transform="translate(288.3 516.4)"><circle r="4.35"/><text class="o" x=".4" y="3.7">8</text></g>
<g transform="translate(300.7 512.6)"><circle r="4.35"/><text class="o" x=".4" y="3.7">9</text></g>
<g transform="translate(313.1 509.3)"><circle r="4.35"/><text x=".5" y="3.2">10</text></g>
<g transform="translate(325.6 506.3)"><circle r="4.35"/><text x=".5" y="3.2">11</text></g>
<g transform="translate(338.2 503.6)"><circle r="4.35"/><text x=".5" y="3.2">12</text></g>
<g transform="translate(350.9 501.4)"><circle r="4.35"/><text x=".5" y="3.2">13</text></g>
<g transform="translate(363.6 499.5)"><circle r="4.35"/><text x=".5" y="3.2">14</text></g>
<g transform="translate(376.4 498.0)"><circle r="4.35"/><text x=".5" y="3.2">15</text></g>
<g transform="translate(389.3 496.8)"><circle r="4.35"/><text x=".5" y="3.2">16</text></g>
<g transform="translate(402.1 496.1)"><circle r="4.35"/><text x=".5" y="3.2">17</text></g>
<g transform="translate(215.7 570.5)"><circle r="4.35"/><text class="o" x=".4" y="3.7">1</text></g>
<g transform="translate(227.2 564.2)"><circle r="4.35"/><text class="o" x=".4" y="3.7">2</text></g>
<g transform="translate(238.9 558.3)"><circle r="4.35"/><text class="o" x=".4" y="3.7">3</text></g>
<g transform="translate(250.7 552.8)"><circle r="4.35"/><text class="o" x=".4" y="3.7">4</text></g>
<g transform="translate(262.8 547.7)"><circle r="4.35"/><text class="o" x=".4" y="3.7">5</text></g>
<g transform="translate(274.9 542.9)"><circle r="4.35"/><text class="o" x=".4" y="3.7">6</text></g>
<g transform="translate(287.3 538.5)"><circle r="4.35"/><text class="o" x=".4" y="3.7">7</text></g>
<g transform="translate(299.7 534.5)"><circle r="4.35"/><text class="o" x=".4" y="3.7">8</text></g>
<g transform="translate(312.3 530.8)"><circle r="4.35"/><text class="o" x=".4" y="3.7">9</text></g>
<g transform="translate(325.0 527.6)"><circle r="4.35"/><text x=".5" y="3.2">10</text></g>
<g transform="translate(337.8 524.8)"><circle r="4.35"/><text x=".5" y="3.2">11</text></g>
<g transform="translate(350.6 522.4)"><circle r="4.35"/><text x=".5" y="3.2">12</text></g>
<g transform="translate(363.6 520.3)"><circle r="4.35"/><text x=".5" y="3.2">13</text></g>
<g transform="translate(376.6 518.7)"><circle r="4.35"/><text x=".5" y="3.2">14</text></g>
<g transform="translate(389.6 517.5)"><circle r="4.35"/><text x=".5" y="3.2">15</text></g>
<g transform="translate(402.7 516.7)"><circle r="4.35"/><text x=".5" y="3.2">16</text></g>
<g transform="translate(225.5 588.5)"><circle r="4.35"/><text class="o" x=".4" y="3.7">1</text></g>
<g transform="translate(236.4 582.6)"><circle r="4.35"/><text class="o" x=".4" y="3.7">2</text></g>
<g transform="translate(247.5 577.0)"><circle r="4.35"/><text class="o" x=".4" y="3.7">3</text></g>
<g transform="translate(258.7 571.7)"><circle r="4.35"/><text class="o" x=".4" y="3.7">4</text></g>
<g transform="translate(270.1 566.8)"><circle r="4.35"/><text class="o" x=".4" y="3.7">5</text></g>
<g transform="translate(281.7 562.3)"><circle r="4.35"/><text class="o" x=".4" y="3.7">6</text></g>
<g transform="translate(293.4 558.1)"><circle r="4.35"/><text class="o" x=".4" y="3.7">7</text></g>
<g transform="translate(305.2 554.3)"><circle r="4.35"/><text class="o" x=".4" y="3.7">8</text></g>
<g transform="translate(317.1 550.8)"><circle r="4.35"/><text class="o" x=".4" y="3.7">9</text></g>
<g transform="translate(329.1 547.7)"><circle r="4.35"/><text x=".5" y="3.2">10</text></g>
<g transform="translate(341.2 545.0)"><circle r="4.35"/><text x=".5" y="3.2">11</text></g>
<g transform="translate(353.4 542.7)"><circle r="4.35"/><text x=".5" y="3.2">12</text></g>
<g transform="translate(365.7 540.8)"><circle r="4.35"/><text x=".5" y="3.2">13</text></g>
<g transform="translate(378.0 539.2)"><circle r="4.35"/><text x=".5" y="3.2">14</text></g>
<g transform="translate(390.3 538.1)"><circle r="4.35"/><text x=".5" y="3.2">15</text></g>
<g transform="translate(402.7 537.3)"><circle r="4.35"/><text x=".5" y="3.2">16</text></g>
<g transform="translate(235.5 606.5)"><circle r="4.35"/><text class="o" x=".4" y="3.7">1</text></g>
<g transform="translate(246.5 600.5)"><circle r="4.35"/><text class="o" x=".4" y="3.7">2</text></g>
<g transform="translate(257.7 594.8)"><circle r="4.35"/><text class="o" x=".4" y="3.7">3</text></g>
<g transform="translate(269.1 589.6)"><circle r="4.35"/><text class="o" x=".4" y="3.7">4</text></g>
<g transform="translate(280.7 584.7)"><circle r="4.35"/><text class="o" x=".4" y="3.7">5</text></g>
<g transform="translate(292.4 580.2)"><circle r="4.35"/><text class="o" x=".4" y="3.7">6</text></g>
<g transform="translate(304.3 576.1)"><circle r="4.35"/><text class="o" x=".4" y="3.7">7</text></g>
<g transform="translate(316.2 572.4)"><circle r="4.35"/><text class="o" x=".4" y="3.7">8</text></g>
<g transform="translate(328.3 569.1)"><circle r="4.35"/><text class="o" x=".4" y="3.7">9</text></g>
<g transform="translate(340.6 566.2)"><circle r="4.35"/><text x=".5" y="3.2">10</text></g>
<g transform="translate(352.8 563.7)"><circle r="4.35"/><text x=".5" y="3.2">11</text></g>
<g transform="translate(365.2 561.6)"><circle r="4.35"/><text x=".5" y="3.2">12</text></g>
<g transform="translate(377.7 559.9)"><circle r="4.35"/><text x=".5" y="3.2">13</text></g>
<g transform="translate(390.1 558.7)"><circle r="4.35"/><text x=".5" y="3.2">14</text></g>
<g transform="translate(402.7 557.8)"><circle r="4.35"/><text x=".5" y="3.2">15</text></g>
<g transform="translate(246.6 624.6)"><circle r="4.35"/><text class="o" x=".4" y="3.7">1</text></g>
<g transform="translate(256.9 619.0)"><circle r="4.35"/><text class="o" x=".4" y="3.7">2</text></g>
<g transform="translate(267.4 613.8)"><circle r="4.35"/><text class="o" x=".4" y="3.7">3</text></g>
<g transform="translate(278.0 608.9)"><circle r="4.35"/><text class="o" x=".4" y="3.7">4</text></g>
<g transform="translate(288.8 604.3)"><circle r="4.35"/><text class="o" x=".4" y="3.7">5</text></g>
<g transform="translate(299.8 600.1)"><circle r="4.35"/><text class="o" x=".4" y="3.7">6</text></g>
<g transform="translate(310.9 596.3)"><circle r="4.35"/><text class="o" x=".4" y="3.7">7</text></g>
<g transform="translate(322.0 592.8)"><circle r="4.35"/><text class="o" x=".4" y="3.7">8</text></g>
<g transform="translate(333.3 589.7)"><circle r="4.35"/><text class="o" x=".4" y="3.7">9</text></g>
<g transform="translate(344.7 587.0)"><circle r="4.35"/><text x=".5" y="3.2">10</text></g>
<g transform="translate(356.2 584.7)"><circle r="4.35"/><text x=".5" y="3.2">11</text></g>
<g transform="translate(367.8 582.7)"><circle r="4.35"/><text x=".5" y="3.2">12</text></g>
<g transform="translate(379.4 581.1)"><circle r="4.35"/><text x=".5" y="3.2">13</text></g>
<g transform="translate(391.0 579.9)"><circle r="4.35"/><text x=".5" y="3.2">14</text></g>
<g transform="translate(402.7 579.1)"><circle r="4.35"/><text x=".5" y="3.2">15</text></g>
<g transform="translate(256.5 643.1)"><circle r="4.35"/><text class="o" x=".4" y="3.7">1</text></g>
<g transform="translate(266.9 637.4)"><circle r="4.35"/><text class="o" x=".4" y="3.7">2</text></g>
<g transform="translate(277.6 632.1)"><circle r="4.35"/><text class="o" x=".4" y="3.7">3</text></g>
<g transform="translate(288.4 627.2)"><circle r="4.35"/><text class="o" x=".4" y="3.7">4</text></g>
<g transform="translate(299.4 622.6)"><circle r="4.35"/><text class="o" x=".4" y="3.7">5</text></g>
<g transform="translate(310.6 618.5)"><circle r="4.35"/><text class="o" x=".4" y="3.7">6</text></g>
<g transform="translate(321.9 614.8)"><circle r="4.35"/><text class="o" x=".4" y="3.7">7</text></g>
<g transform="translate(333.3 611.4)"><circle r="4.35"/><text class="o" x=".4" y="3.7">8</text></g>
<g transform="translate(344.8 608.5)"><circle r="4.35"/><text class="o" x=".4" y="3.7">9</text></g>
<g transform="translate(356.4 606.0)"><circle r="4.35"/><text x=".5" y="3.2">10</text></g>
<g transform="translate(368.1 603.9)"><circle r="4.35"/><text x=".5" y="3.2">11</text></g>
<g transform="translate(379.9 602.2)"><circle r="4.35"/><text x=".5" y="3.2">12</text></g>
<g transform="translate(391.7 600.9)"><circle r="4.35"/><text x=".5" y="3.2">13</text></g>
<g transform="translate(403.6 600.0)"><circle r="4.35"/><text x=".5" y="3.2">14</text></g>
<g transform="translate(266.3 660.2)"><circle r="4.35"/><text class="o" x=".4" y="3.7">1</text></g>
<g transform="translate(276.1 654.9)"><circle r="4.35"/><text class="o" x=".4" y="3.7">2</text></g>
<g transform="translate(286.1 649.9)"><circle r="4.35"/><text class="o" x=".4" y="3.7">3</text></g>
<g transform="translate(296.2 645.3)"><circle r="4.35"/><text class="o" x=".4" y="3.7">4</text></g>
<g transform="translate(306.5 641.1)"><circle r="4.35"/><text class="o" x=".4" y="3.7">5</text></g>
<g transform="translate(317.0 637.2)"><circle r="4.35"/><text class="o" x=".4" y="3.7">6</text></g>
<g transform="translate(327.6 633.7)"><circle r="4.35"/><text class="o" x=".4" y="3.7">7</text></g>
<g transform="translate(338.3 630.5)"><circle r="4.35"/><text class="o" x=".4" y="3.7">8</text></g>
<g transform="translate(349.1 627.8)"><circle r="4.35"/><text class="o" x=".4" y="3.7">9</text></g>
<g transform="translate(360.0 625.4)"><circle r="4.35"/><text x=".5" y="3.2">10</text></g>
<g transform="translate(370.9 623.4)"><circle r="4.35"/><text x=".5" y="3.2">11</text></g>
<g transform="translate(382.0 621.8)"><circle r="4.35"/><text x=".5" y="3.2">12</text></g>
<g transform="translate(393.0 620.6)"><circle r="4.35"/><text x=".5" y="3.2">13</text></g>
<g transform="translate(404.2 619.8)"><circle r="4.35"/><text x=".5" y="3.2">14</text></g>
<g transform="translate(442.4 434.1)"><circle r="4.35"/><text x=".5" y="3.2">19</text></g>
<g transform="translate(456.4 434.8)"><circle r="4.35"/><text x=".5" y="3.2">20</text></g>
<g transform="translate(470.3 436.0)"><circle r="4.35"/><text x=".5" y="3.2">21</text></g>
<g transform="translate(484.1 437.6)"><circle r="4.35"/><text x=".5" y="3.2">22</text></g>
<g transform="translate(498.0 439.5)"><circle r="4.35"/><text x=".5" y="3.2">23</text></g>
<g transform="translate(511.8 441.8)"><circle r="4.35"/><text x=".5" y="3.2">24</text></g>
<g transform="translate(525.5 444.5)"><circle r="4.35"/><text x=".5" y="3.2">25</text></g>
<g transform="translate(539.1 447.6)"><circle r="4.35"/><text x=".5" y="3.2">26</text></g>
<g transform="translate(552.6 451.1)"><circle r="4.35"/><text x=".5" y="3.2">27</text></g>
<g transform="translate(566.0 454.9)"><circle r="4.35"/><text x=".5" y="3.2">28</text></g>
<g transform="translate(579.3 459.1)"><circle r="4.35"/><text x=".5" y="3.2">29</text></g>
<g transform="translate(592.5 463.7)"><circle r="4.35"/><text x=".5" y="3.2">30</text></g>
<g transform="translate(605.6 468.6)"><circle r="4.35"/><text x=".5" y="3.2">31</text></g>
<g transform="translate(618.5 473.9)"><circle r="4.35"/><text x=".5" y="3.2">32</text></g>
<g transform="translate(631.3 479.6)"><circle r="4.35"/><text x=".5" y="3.2">33</text></g>
<g transform="translate(643.9 485.6)"><circle r="4.35"/><text x=".5" y="3.2">34</text></g>
<g transform="translate(656.3 492.0)"><circle r="4.35"/><text x=".5" y="3.2">35</text></g>
<g transform="translate(668.5 498.7)"><circle r="4.35"/><text x=".5" y="3.2">36</text></g>
<g transform="translate(442.4 455.2)"><circle r="4.35"/><text x=".5" y="3.2">18</text></g>
<g transform="translate(456.5 456.1)"><circle r="4.35"/><text x=".5" y="3.2">19</text></g>
<g transform="translate(470.6 457.3)"><circle r="4.35"/><text x=".5" y="3.2">20</text></g>
<g transform="translate(484.6 458.9)"><circle r="4.35"/><text x=".5" y="3.2">21</text></g>
<g transform="translate(498.6 461.0)"><circle r="4.35"/><text x=".5" y="3.2">22</text></g>
<g transform="translate(512.5 463.5)"><circle r="4.35"/><text x=".5" y="3.2">23</text></g>
<g transform="translate(526.3 466.3)"><circle r="4.35"/><text x=".5" y="3.2">24</text></g>
<g transform="translate(540.0 469.6)"><circle r="4.35"/><text x=".5" y="3.2">25</text></g>
<g transform="translate(553.7 473.3)"><circle r="4.35"/><text x=".5" y="3.2">26</text></g>
<g transform="translate(567.2 477.4)"><circle r="4.35"/><text x=".5" y="3.2">27</text></g>
<g transform="translate(580.6 481.9)"><circle r="4.35"/><text x=".5" y="3.2">28</text></g>
<g transform="translate(593.8 486.7)"><circle r="4.35"/><text x=".5" y="3.2">29</text></g>
<g transform="translate(606.9 492.0)"><circle r="4.35"/><text x=".5" y="3.2">30</text></g>
<g transform="translate(619.9 497.6)"><circle r="4.35"/><text x=".5" y="3.2">31</text></g>
<g transform="translate(632.6 503.7)"><circle r="4.35"/><text x=".5" y="3.2">32</text></g>
<g transform="translate(645.2 510.0)"><circle r="4.35"/><text x=".5" y="3.2">33</text></g>
<g transform="translate(657.6 516.8)"><circle r="4.35"/><text x=".5" y="3.2">34</text></g>
<g transform="translate(441.8 476.2)"><circle r="4.35"/><text x=".5" y="3.2">18</text></g>
<g transform="translate(455.3 477.0)"><circle r="4.35"/><text x=".5" y="3.2">19</text></g>
<g transform="translate(468.7 478.2)"><circle r="4.35"/><text x=".5" y="3.2">20</text></g>
<g transform="translate(482.1 479.7)"><circle r="4.35"/><text x=".5" y="3.2">21</text></g>
<g transform="translate(495.4 481.7)"><circle r="4.35"/><text x=".5" y="3.2">22</text></g>
<g transform="translate(508.7 484.1)"><circle r="4.35"/><text x=".5" y="3.2">23</text></g>
<g transform="translate(521.9 486.8)"><circle r="4.35"/><text x=".5" y="3.2">24</text></g>
<g transform="translate(535.0 490.0)"><circle r="4.35"/><text x=".5" y="3.2">25</text></g>
<g transform="translate(548.0 493.5)"><circle r="4.35"/><text x=".5" y="3.2">26</text></g>
<g transform="translate(561.0 497.4)"><circle r="4.35"/><text x=".5" y="3.2">27</text></g>
<g transform="translate(573.7 501.7)"><circle r="4.35"/><text x=".5" y="3.2">28</text></g>
<g transform="translate(586.4 506.3)"><circle r="4.35"/><text x=".5" y="3.2">29</text></g>
<g transform="translate(598.9 511.4)"><circle r="4.35"/><text x=".5" y="3.2">30</text></g>
<g transform="translate(611.3 516.7)"><circle r="4.35"/><text x=".5" y="3.2">31</text></g>
<g transform="translate(623.5 522.5)"><circle r="4.35"/><text x=".5" y="3.2">32</text></g>
<g transform="translate(635.5 528.6)"><circle r="4.35"/><text x=".5" y="3.2">33</text></g>
<g transform="translate(647.3 535.1)"><circle r="4.35"/><text x=".5" y="3.2">34</text></g>
<g transform="translate(441.0 496.1)"><circle r="4.35"/><text x=".5" y="3.2">18</text></g>
<g transform="translate(453.8 496.8)"><circle r="4.35"/><text x=".5" y="3.2">19</text></g>
<g transform="translate(466.7 498.0)"><circle r="4.35"/><text x=".5" y="3.2">20</text></g>
<g transform="translate(479.5 499.5)"><circle r="4.35"/><text x=".5" y="3.2">21</text></g>
<g transform="translate(492.2 501.4)"><circle r="4.35"/><text x=".5" y="3.2">22</text></g>
<g transform="translate(504.9 503.6)"><circle r="4.35"/><text x=".5" y="3.2">23</text></g>
<g transform="translate(517.6 506.3)"><circle r="4.35"/><text x=".5" y="3.2">24</text></g>
<g transform="translate(530.1 509.3)"><circle r="4.35"/><text x=".5" y="3.2">25</text></g>
<g transform="translate(542.5 512.6)"><circle r="4.35"/><text x=".5" y="3.2">26</text></g>
<g transform="translate(554.9 516.4)"><circle r="4.35"/><text x=".5" y="3.2">27</text></g>
<g transform="translate(567.1 520.5)"><circle r="4.35"/><text x=".5" y="3.2">28</text></g>
<g transform="translate(579.2 524.9)"><circle r="4.35"/><text x=".5" y="3.2">29</text></g>
<g transform="translate(591.2 529.7)"><circle r="4.35"/><text x=".5" y="3.2">30</text></g>
<g transform="translate(603.0 534.9)"><circle r="4.35"/><text x=".5" y="3.2">31</text></g>
<g transform="translate(614.7 540.4)"><circle r="4.35"/><text x=".5" y="3.2">32</text></g>
<g transform="translate(626.2 546.2)"><circle r="4.35"/><text x=".5" y="3.2">33</text></g>
<g transform="translate(637.5 552.4)"><circle r="4.35"/><text x=".5" y="3.2">34</text></g>
<g transform="translate(441.8 517.1)"><circle r="4.35"/><text x=".5" y="3.2">17</text></g>
<g transform="translate(454.8 517.9)"><circle r="4.35"/><text x=".5" y="3.2">18</text></g>
<g transform="translate(467.7 519.2)"><circle r="4.35"/><text x=".5" y="3.2">19</text></g>
<g transform="translate(480.6 520.8)"><circle r="4.35"/><text x=".5" y="3.2">20</text></g>
<g transform="translate(493.4 522.8)"><circle r="4.35"/><text x=".5" y="3.2">21</text></g>
<g transform="translate(506.1 525.2)"><circle r="4.35"/><text x=".5" y="3.2">22</text></g>
<g transform="translate(518.8 528.0)"><circle r="4.35"/><text x=".5" y="3.2">23</text></g>
<g transform="translate(531.3 531.3)"><circle r="4.35"/><text x=".5" y="3.2">24</text></g>
<g transform="translate(543.8 534.9)"><circle r="4.35"/><text x=".5" y="3.2">25</text></g>
<g transform="translate(556.1 538.8)"><circle r="4.35"/><text x=".5" y="3.2">26</text></g>
<g transform="translate(568.4 543.2)"><circle r="4.35"/><text x=".5" y="3.2">27</text></g>
<g transform="translate(580.4 547.9)"><circle r="4.35"/><text x=".5" y="3.2">28</text></g>
<g transform="translate(592.3 553.0)"><circle r="4.35"/><text x=".5" y="3.2">29</text></g>
<g transform="translate(604.1 558.5)"><circle r="4.35"/><text x=".5" y="3.2">30</text></g>
<g transform="translate(615.7 564.4)"><circle r="4.35"/><text x=".5" y="3.2">31</text></g>
<g transform="translate(627.1 570.6)"><circle r="4.35"/><text x=".5" y="3.2">32</text></g>
<g transform="translate(441.0 537.7)"><circle r="4.35"/><text x=".5" y="3.2">17</text></g>
<g transform="translate(453.3 538.5)"><circle r="4.35"/><text x=".5" y="3.2">18</text></g>
<g transform="translate(465.6 539.7)"><circle r="4.35"/><text x=".5" y="3.2">19</text></g>
<g transform="translate(477.9 541.3)"><circle r="4.35"/><text x=".5" y="3.2">20</text></g>
<g transform="translate(490.1 543.2)"><circle r="4.35"/><text x=".5" y="3.2">21</text></g>
<g transform="translate(502.3 545.5)"><circle r="4.35"/><text x=".5" y="3.2">22</text></g>
<g transform="translate(514.4 548.2)"><circle r="4.35"/><text x=".5" y="3.2">23</text></g>
<g transform="translate(526.3 551.3)"><circle r="4.35"/><text x=".5" y="3.2">24</text></g>
<g transform="translate(538.2 554.7)"><circle r="4.35"/><text x=".5" y="3.2">25</text></g>
<g transform="translate(550.0 558.5)"><circle r="4.35"/><text x=".5" y="3.2">26</text></g>
<g transform="translate(561.6 562.7)"><circle r="4.35"/><text x=".5" y="3.2">27</text></g>
<g transform="translate(573.1 567.3)"><circle r="4.35"/><text x=".5" y="3.2">28</text></g>
<g transform="translate(584.5 572.2)"><circle r="4.35"/><text x=".5" y="3.2">29</text></g>
<g transform="translate(595.7 577.4)"><circle r="4.35"/><text x=".5" y="3.2">30</text></g>
<g transform="translate(606.8 583.0)"><circle r="4.35"/><text x=".5" y="3.2">31</text></g>
<g transform="translate(617.6 588.9)"><circle r="4.35"/><text x=".5" y="3.2">32</text></g>
<g transform="translate(439.8 558.5)"><circle r="4.35"/><text x=".5" y="3.2">16</text></g>
<g transform="translate(452.3 559.3)"><circle r="4.35"/><text x=".5" y="3.2">17</text></g>
<g transform="translate(464.8 560.5)"><circle r="4.35"/><text x=".5" y="3.2">18</text></g>
<g transform="translate(477.2 562.2)"><circle r="4.35"/><text x=".5" y="3.2">19</text></g>
<g transform="translate(489.6 564.2)"><circle r="4.35"/><text x=".5" y="3.2">20</text></g>
<g transform="translate(501.9 566.7)"><circle r="4.35"/><text x=".5" y="3.2">21</text></g>
<g transform="translate(514.1 569.6)"><circle r="4.35"/><text x=".5" y="3.2">22</text></g>
<g transform="translate(526.3 572.9)"><circle r="4.35"/><text x=".5" y="3.2">23</text></g>
<g transform="translate(538.3 576.6)"><circle r="4.35"/><text x=".5" y="3.2">24</text></g>
<g transform="translate(550.1 580.6)"><circle r="4.35"/><text x=".5" y="3.2">25</text></g>
<g transform="translate(561.9 585.1)"><circle r="4.35"/><text x=".5" y="3.2">26</text></g>
<g transform="translate(573.4 590.0)"><circle r="4.35"/><text x=".5" y="3.2">27</text></g>
<g transform="translate(584.8 595.2)"><circle r="4.35"/><text x=".5" y="3.2">28</text></g>
<g transform="translate(596.0 600.9)"><circle r="4.35"/><text x=".5" y="3.2">29</text></g>
<g transform="translate(607.1 606.9)"><circle r="4.35"/><text x=".5" y="3.2">30</text></g>
<g transform="translate(439.8 579.3)"><circle r="4.35"/><text x=".5" y="3.2">16</text></g>
<g transform="translate(451.5 580.0)"><circle r="4.35"/><text x=".5" y="3.2">17</text></g>
<g transform="translate(463.2 581.2)"><circle r="4.35"/><text x=".5" y="3.2">18</text></g>
<g transform="translate(474.9 582.8)"><circle r="4.35"/><text x=".5" y="3.2">19</text></g>
<g transform="translate(486.5 584.7)"><circle r="4.35"/><text x=".5" y="3.2">20</text></g>
<g transform="translate(498.1 587.1)"><circle r="4.35"/><text x=".5" y="3.2">21</text></g>
<g transform="translate(509.5 589.8)"><circle r="4.35"/><text x=".5" y="3.2">22</text></g>
<g transform="translate(520.9 592.9)"><circle r="4.35"/><text x=".5" y="3.2">23</text></g>
<g transform="translate(532.1 596.4)"><circle r="4.35"/><text x=".5" y="3.2">24</text></g>
<g transform="translate(543.2 600.2)"><circle r="4.35"/><text x=".5" y="3.2">25</text></g>
<g transform="translate(554.2 604.4)"><circle r="4.35"/><text x=".5" y="3.2">26</text></g>
<g transform="translate(565.1 609.0)"><circle r="4.35"/><text x=".5" y="3.2">27</text></g>
<g transform="translate(575.8 613.9)"><circle r="4.35"/><text x=".5" y="3.2">28</text></g>
<g transform="translate(586.3 619.2)"><circle r="4.35"/><text x=".5" y="3.2">29</text></g>
<g transform="translate(596.7 624.8)"><circle r="4.35"/><text x=".5" y="3.2">30</text></g>
<g transform="translate(438.9 600.1)"><circle r="4.35"/><text x=".5" y="3.2">15</text></g>
<g transform="translate(450.8 600.9)"><circle r="4.35"/><text x=".5" y="3.2">16</text></g>
<g transform="translate(462.6 602.2)"><circle r="4.35"/><text x=".5" y="3.2">17</text></g>
<g transform="translate(474.4 603.8)"><circle r="4.35"/><text x=".5" y="3.2">18</text></g>
<g transform="translate(486.1 605.9)"><circle r="4.35"/><text x=".5" y="3.2">19</text></g>
<g transform="translate(497.8 608.4)"><circle r="4.35"/><text x=".5" y="3.2">20</text></g>
<g transform="translate(509.3 611.3)"><circle r="4.35"/><text x=".5" y="3.2">21</text></g>
<g transform="translate(520.7 614.6)"><circle r="4.35"/><text x=".5" y="3.2">22</text></g>
<g transform="translate(532.0 618.3)"><circle r="4.35"/><text x=".5" y="3.2">23</text></g>
<g transform="translate(543.2 622.5)"><circle r="4.35"/><text x=".5" y="3.2">24</text></g>
<g transform="translate(554.2 627.0)"><circle r="4.35"/><text x=".5" y="3.2">25</text></g>
<g transform="translate(565.0 631.9)"><circle r="4.35"/><text x=".5" y="3.2">26</text></g>
<g transform="translate(575.7 637.2)"><circle r="4.35"/><text x=".5" y="3.2">27</text></g>
<g transform="translate(586.2 642.8)"><circle r="4.35"/><text x=".5" y="3.2">28</text></g>
<g transform="translate(438.3 619.8)"><circle r="4.35"/><text x=".5" y="3.2">15</text></g>
<g transform="translate(449.5 620.6)"><circle r="4.35"/><text x=".5" y="3.2">16</text></g>
<g transform="translate(460.6 621.8)"><circle r="4.35"/><text x=".5" y="3.2">17</text></g>
<g transform="translate(471.7 623.4)"><circle r="4.35"/><text x=".5" y="3.2">18</text></g>
<g transform="translate(482.7 625.3)"><circle r="4.35"/><text x=".5" y="3.2">19</text></g>
<g transform="translate(493.7 627.7)"><circle r="4.35"/><text x=".5" y="3.2">20</text></g>
<g transform="translate(504.5 630.5)"><circle r="4.35"/><text x=".5" y="3.2">21</text></g>
<g transform="translate(515.2 633.6)"><circle r="4.35"/><text x=".5" y="3.2">22</text></g>
<g transform="translate(525.9 637.1)"><circle r="4.35"/><text x=".5" y="3.2">23</text></g>
<g transform="translate(536.4 641.0)"><circle r="4.35"/><text x=".5" y="3.2">24</text></g>
<g transform="translate(546.7 645.2)"><circle r="4.35"/><text x=".5" y="3.2">25</text></g>
<g transform="translate(556.9 649.9)"><circle r="4.35"/><text x=".5" y="3.2">26</text></g>
<g transform="translate(566.9 654.8)"><circle r="4.35"/><text x=".5" y="3.2">27</text></g>
<g transform="translate(13.9 705.6)"><circle r="4.35"/><text class="o" x=".4" y="3.7">1</text></g>
<g transform="translate(24.6 693.2)"><circle r="4.35"/><text class="o" x=".4" y="3.7">2</text></g>
<g transform="translate(35.5 681.3)"><circle r="4.35"/><text class="o" x=".4" y="3.7">3</text></g>
<g transform="translate(46.8 669.7)"><circle r="4.35"/><text class="o" x=".4" y="3.7">4</text></g>
<g transform="translate(58.3 658.6)"><circle r="4.35"/><text class="o" x=".4" y="3.7">5</text></g>
<g transform="translate(70.0 647.9)"><circle r="4.35"/><text class="o" x=".4" y="3.7">6</text></g>
<g transform="translate(82.0 637.7)"><circle r="4.35"/><text class="o" x=".4" y="3.7">7</text></g>
<g transform="translate(94.2 627.8)"><circle r="4.35"/><text class="o" x=".4" y="3.7">8</text></g>
<g transform="translate(106.7 618.5)"><circle r="4.35"/><text class="o" x=".4" y="3.7">9</text></g>
<g transform="translate(119.3 609.5)"><circle r="4.35"/><text x=".5" y="3.2">10</text></g>
<g transform="translate(132.0 601.0)"><circle r="4.35"/><text x=".5" y="3.2">11</text></g>
<g transform="translate(144.9 592.9)"><circle r="4.35"/><text x=".5" y="3.2">12</text></g>
<g transform="translate(158.0 585.2)"><circle r="4.35"/><text x=".5" y="3.2">13</text></g>
<g transform="translate(171.1 577.9)"><circle r="4.35"/><text x=".5" y="3.2">14</text></g>
<g transform="translate(184.4 571.1)"><circle r="4.35"/><text x=".5" y="3.2">15</text></g>
<g transform="translate(28.2 732.5)"><circle r="4.35"/><text class="o" x=".4" y="3.7">1</text></g>
<g transform="translate(37.9 720.6)"><circle r="4.35"/><text class="o" x=".4" y="3.7">2</text></g>
<g transform="translate(47.9 709.2)"><circle r="4.35"/><text class="o" x=".4" y="3.7">3</text></g>
<g transform="translate(58.2 698.1)"><circle r="4.35"/><text class="o" x=".4" y="3.7">4</text></g>
<g transform="translate(68.8 687.4)"><circle r="4.35"/><text class="o" x=".4" y="3.7">5</text></g>
<g transform="translate(79.6 677.0)"><circle r="4.35"/><text class="o" x=".4" y="3.7">6</text></g>
<g transform="translate(90.7 667.1)"><circle r="4.35"/><text class="o" x=".4" y="3.7">7</text></g>
<g transform="translate(102.0 657.6)"><circle r="4.35"/><text class="o" x=".4" y="3.7">8</text></g>
<g transform="translate(113.5 648.4)"><circle r="4.35"/><text class="o" x=".4" y="3.7">9</text></g>
<g transform="translate(125.2 639.7)"><circle r="4.35"/><text x=".5" y="3.2">10</text></g>
<g transform="translate(137.1 631.3)"><circle r="4.35"/><text x=".5" y="3.2">11</text></g>
<g transform="translate(149.1 623.3)"><circle r="4.35"/><text x=".5" y="3.2">12</text></g>
<g transform="translate(161.3 615.8)"><circle r="4.35"/><text x=".5" y="3.2">13</text></g>
<g transform="translate(173.6 608.6)"><circle r="4.35"/><text x=".5" y="3.2">14</text></g>
<g transform="translate(186.0 601.8)"><circle r="4.35"/><text x=".5" y="3.2">15</text></g>
<g transform="translate(198.6 595.4)"><circle r="4.35"/><text x=".5" y="3.2">16</text></g>
<g transform="translate(660.6 568.6)"><circle r="4.35"/><text class="o" x=".4" y="3.7">1</text></g>
<g transform="translate(672.3 574.5)"><circle r="4.35"/><text class="o" x=".4" y="3.7">2</text></g>
<g transform="translate(683.9 580.7)"><circle r="4.35"/><text class="o" x=".4" y="3.7">3</text></g>
<g transform="translate(695.5 587.2)"><circle r="4.35"/><text class="o" x=".4" y="3.7">4</text></g>
<g transform="translate(706.9 594.0)"><circle r="4.35"/><text class="o" x=".4" y="3.7">5</text></g>
<g transform="translate(718.3 601.1)"><circle r="4.35"/><text class="o" x=".4" y="3.7">6</text></g>
<g transform="translate(729.6 608.5)"><circle r="4.35"/><text class="o" x=".4" y="3.7">7</text></g>
<g transform="translate(740.9 616.2)"><circle r="4.35"/><text class="o" x=".4" y="3.7">8</text></g>
<g transform="translate(752.0 624.2)"><circle r="4.35"/><text class="o" x=".4" y="3.7">9</text></g>
<g transform="translate(762.9 632.5)"><circle r="4.35"/><text x=".5" y="3.2">10</text></g>
<g transform="translate(773.8 641.1)"><circle r="4.35"/><text x=".5" y="3.2">11</text></g>
<g transform="translate(784.5 649.9)"><circle r="4.35"/><text x=".5" y="3.2">12</text></g>
<g transform="translate(795.1 659.1)"><circle r="4.35"/><text x=".5" y="3.2">13</text></g>
<g transform="translate(805.5 668.6)"><circle r="4.35"/><text x=".5" y="3.2">14</text></g>
<g transform="translate(649.5 594.1)"><circle r="4.35"/><text class="o" x=".4" y="3.7">1</text></g>
<g transform="translate(661.2 600.1)"><circle r="4.35"/><text class="o" x=".4" y="3.7">2</text></g>
<g transform="translate(672.8 606.3)"><circle r="4.35"/><text class="o" x=".4" y="3.7">3</text></g>
<g transform="translate(684.2 612.8)"><circle r="4.35"/><text class="o" x=".4" y="3.7">4</text></g>
<g transform="translate(695.4 619.6)"><circle r="4.35"/><text class="o" x=".4" y="3.7">5</text></g>
<g transform="translate(706.6 626.6)"><circle r="4.35"/><text class="o" x=".4" y="3.7">6</text></g>
<g transform="translate(717.5 633.9)"><circle r="4.35"/><text class="o" x=".4" y="3.7">7</text></g>
<g transform="translate(728.3 641.4)"><circle r="4.35"/><text class="o" x=".4" y="3.7">8</text></g>
<g transform="translate(738.9 649.1)"><circle r="4.35"/><text class="o" x=".4" y="3.7">9</text></g>
<g transform="translate(749.4 657.2)"><circle r="4.35"/><text x=".5" y="3.2">10</text></g>
<g transform="translate(759.6 665.4)"><circle r="4.35"/><text x=".5" y="3.2">11</text></g>
<g transform="translate(769.7 673.9)"><circle r="4.35"/><text x=".5" y="3.2">12</text></g>
<g transform="translate(779.6 682.6)"><circle r="4.35"/><text x=".5" y="3.2">13</text></g>
<g transform="translate(789.3 691.5)"><circle r="4.35"/><text x=".5" y="3.2">14</text></g>
<g transform="translate(798.8 700.7)"><circle r="4.35"/><text x=".5" y="3.2">15</text></g>
<g transform="translate(808.1 710.1)"><circle r="4.35"/><text x=".5" y="3.2">16</text></g>
<g transform="translate(365.5 658.7) rotate(7)"><circle r="4.35"/><text class="o" x=".4" y="3.7">1</text></g>
<g transform="translate(379.5 657.0) rotate(5)"><circle r="4.35"/><text class="o" x=".4" y="3.7">2</text></g>
<g transform="translate(394.7 654.0) rotate(3)"><circle r="4.35"/><text class="o" x=".4" y="3.7">3</text></g>
<g transform="translate(449.6 656.1) rotate(-4)"><circle r="4.35"/><text class="o" x=".4" y="3.7">4</text></g>
<g transform="translate(463.6 657.3) rotate(-5)"><circle r="4.35"/><text class="o" x=".4" y="3.7">5</text></g>
<g transform="translate(477.5 658.7) rotate(-7)"><circle r="4.35"/><text class="o" x=".4" y="3.7">6</text></g>
<g transform="translate(228.8 719.7) rotate(26)"><circle r="4.35"/><text class="o" x=".4" y="3.7">1</text></g>
<g transform="translate(240.8 714.1) rotate(24)"><circle r="4.35"/><text class="o" x=".4" y="3.7">2</text></g>
<g transform="translate(253.0 708.9) rotate(22)"><circle r="4.35"/><text class="o" x=".4" y="3.7">3</text></g>
<g transform="translate(265.4 704.0) rotate(21)"><circle r="4.35"/><text class="o" x=".4" y="3.7">4</text></g>
<g transform="translate(277.8 699.5) rotate(19)"><circle r="4.35"/><text class="o" x=".4" y="3.7">5</text></g>
<g transform="translate(290.4 695.4) rotate(17)"><circle r="4.35"/><text class="o" x=".4" y="3.7">6</text></g>
<g transform="translate(303.2 691.6) rotate(16)"><circle r="4.35"/><text class="o" x=".4" y="3.7">7</text></g>
<g transform="translate(316.0 688.2) rotate(14)"><circle r="4.35"/><text class="o" x=".4" y="3.7">8</text></g>
<g transform="translate(328.9 685.3) rotate(12)"><circle r="4.35"/><text class="o" x=".4" y="3.7">9</text></g>
<g transform="translate(341.9 682.7) rotate(10)"><circle r="4.35"/><text x=".5" y="3.2">10</text></g>
<g transform="translate(355.0 680.5) rotate(9)"><circle r="4.35"/><text x=".5" y="3.2">11</text></g>
<g transform="translate(368.2 678.7) rotate(7)"><circle r="4.35"/><text x=".5" y="3.2">12</text></g>
<g transform="translate(381.4 677.3) rotate(5)"><circle r="4.35"/><text x=".5" y="3.2">13</text></g>
<g transform="translate(394.6 676.3) rotate(3)"><circle r="4.35"/><text x=".5" y="3.2">14</text></g>
<g transform="translate(448.2 676.3) rotate(-3)"><circle r="4.35"/><text x=".5" y="3.2">15</text></g>
<g transform="translate(461.4 677.3) rotate(-5)"><circle r="4.35"/><text x=".5" y="3.2">16</text></g>
<g transform="translate(474.6 678.7) rotate(-7)"><circle r="4.35"/><text x=".5" y="3.2">17</text></g>
<g transform="translate(487.8 680.5) rotate(-9)"><circle r="4.35"/><text x=".5" y="3.2">18</text></g>
<g transform="translate(500.9 682.7) rotate(-10)"><circle r="4.35"/><text x=".5" y="3.2">19</text></g>
<g transform="translate(513.9 685.3) rotate(-12)"><circle r="4.35"/><text x=".5" y="3.2">20</text></g>
<g transform="translate(526.8 688.2) rotate(-14)"><circle r="4.35"/><text x=".5" y="3.2">21</text></g>
<g transform="translate(539.6 691.6) rotate(-16)"><circle r="4.35"/><text x=".5" y="3.2">22</text></g>
<g transform="translate(552.4 695.4) rotate(-17)"><circle r="4.35"/><text x=".5" y="3.2">23</text></g>
<g transform="translate(565.0 699.5) rotate(-19)"><circle r="4.35"/><text x=".5" y="3.2">24</text></g>
<g transform="translate(577.4 704.0) rotate(-21)"><circle r="4.35"/><text x=".5" y="3.2">25</text></g>
<g transform="translate(589.8 708.9) rotate(-22)"><circle r="4.35"/><text x=".5" y="3.2">26</text></g>
<g transform="translate(602.0 714.1) rotate(-24)"><circle r="4.35"/><text x=".5" y="3.2">27</text></g>
<g transform="translate(614.0 719.7) rotate(-26)"><circle r="4.35"/><text x=".5" y="3.2">28</text></g>
<g transform="translate(209.5 751.6) rotate(30)"><circle r="4.35"/><text class="o" x=".4" y="3.7">1</text></g>
<g transform="translate(244.3 733.5) rotate(25)"><circle r="4.35"/><text class="o" x=".4" y="3.7">2</text></g>
<g transform="translate(256.2 728.3) rotate(23)"><circle r="4.35"/><text class="o" x=".4" y="3.7">3</text></g>
<g transform="translate(268.3 723.3) rotate(21)"><circle r="4.35"/><text class="o" x=".4" y="3.7">4</text></g>
<g transform="translate(280.6 718.8) rotate(19)"><circle r="4.35"/><text class="o" x=".4" y="3.7">5</text></g>
<g transform="translate(293.0 714.6) rotate(18)"><circle r="4.35"/><text class="o" x=".4" y="3.7">6</text></g>
<g transform="translate(305.5 710.8) rotate(16)"><circle r="4.35"/><text class="o" x=".4" y="3.7">7</text></g>
<g transform="translate(318.1 707.5) rotate(14)"><circle r="4.35"/><text class="o" x=".4" y="3.7">8</text></g>
<g transform="translate(330.8 704.5) rotate(12)"><circle r="4.35"/><text class="o" x=".4" y="3.7">9</text></g>
<g transform="translate(343.6 701.9) rotate(11)"><circle r="4.35"/><text x=".5" y="3.2">10</text></g>
<g transform="translate(356.5 699.7) rotate(9)"><circle r="4.35"/><text x=".5" y="3.2">11</text></g>
<g transform="translate(369.4 697.8) rotate(7)"><circle r="4.35"/><text x=".5" y="3.2">12</text></g>
<g transform="translate(382.4 696.4) rotate(5)"><circle r="4.35"/><text x=".5" y="3.2">13</text></g>
<g transform="translate(395.4 695.4) rotate(4)"><circle r="4.35"/><text x=".5" y="3.2">14</text></g>
<g transform="translate(447.4 695.4) rotate(-4)"><circle r="4.35"/><text x=".5" y="3.2">15</text></g>
<g transform="translate(460.4 696.4) rotate(-5)"><circle r="4.35"/><text x=".5" y="3.2">16</text></g>
<g transform="translate(473.4 697.8) rotate(-7)"><circle r="4.35"/><text x=".5" y="3.2">17</text></g>
<g transform="translate(486.3 699.7) rotate(-9)"><circle r="4.35"/><text x=".5" y="3.2">18</text></g>
<g transform="translate(499.2 701.9) rotate(-11)"><circle r="4.35"/><text x=".5" y="3.2">19</text></g>
<g transform="translate(512.0 704.5) rotate(-12)"><circle r="4.35"/><text x=".5" y="3.2">20</text></g>
<g transform="translate(524.7 707.5) rotate(-14)"><circle r="4.35"/><text x=".5" y="3.2">21</text></g>
<g transform="translate(537.3 710.8) rotate(-16)"><circle r="4.35"/><text x=".5" y="3.2">22</text></g>
<g transform="translate(549.8 714.6) rotate(-18)"><circle r="4.35"/><text x=".5" y="3.2">23</text></g>
<g transform="translate(562.2 718.8) rotate(-19)"><circle r="4.35"/><text x=".5" y="3.2">24</text></g>
<g transform="translate(574.5 723.3) rotate(-21)"><circle r="4.35"/><text x=".5" y="3.2">25</text></g>
<g transform="translate(586.6 728.3) rotate(-23)"><circle r="4.35"/><text x=".5" y="3.2">26</text></g>
<g transform="translate(598.5 733.5) rotate(-25)"><circle r="4.35"/><text x=".5" y="3.2">27</text></g>
<g transform="translate(644.3 758.2) rotate(-32)"><circle r="4.35"/><text x=".5" y="3.2">28</text></g>
<g transform="translate(174.0 798.0) rotate(38)"><circle r="4.35"/><text class="o" x=".4" y="3.7">1</text></g>
<g transform="translate(184.3 790.3) rotate(36)"><circle r="4.35"/><text class="o" x=".4" y="3.7">2</text></g>
<g transform="translate(194.9 782.9) rotate(34)"><circle r="4.35"/><text class="o" x=".4" y="3.7">3</text></g>
<g transform="translate(205.6 775.8) rotate(32)"><circle r="4.35"/><text class="o" x=".4" y="3.7">4</text></g>
<g transform="translate(216.6 769.1) rotate(30)"><circle r="4.35"/><text class="o" x=".4" y="3.7">5</text></g>
<g transform="translate(239.6 756.6) rotate(27)"><circle r="4.35"/><text class="o" x=".4" y="3.7">6</text></g>
<g transform="translate(251.3 750.9) rotate(25)"><circle r="4.35"/><text class="o" x=".4" y="3.7">7</text></g>
<g transform="translate(263.2 745.6) rotate(23)"><circle r="4.35"/><text class="o" x=".4" y="3.7">8</text></g>
<g transform="translate(275.3 740.7) rotate(21)"><circle r="4.35"/><text class="o" x=".4" y="3.7">9</text></g>
<g transform="translate(287.5 736.2) rotate(19)"><circle r="4.35"/><text x=".5" y="3.2">10</text></g>
<g transform="translate(299.9 732.0) rotate(18)"><circle r="4.35"/><text x=".5" y="3.2">11</text></g>
<g transform="translate(312.4 728.3) rotate(16)"><circle r="4.35"/><text x=".5" y="3.2">12</text></g>
<g transform="translate(325.0 725.0) rotate(14)"><circle r="4.35"/><text x=".5" y="3.2">13</text></g>
<g transform="translate(337.8 722.1) rotate(12)"><circle r="4.35"/><text x=".5" y="3.2">14</text></g>
<g transform="translate(350.6 719.6) rotate(10)"><circle r="4.35"/><text x=".5" y="3.2">15</text></g>
<g transform="translate(363.4 717.5) rotate(8)"><circle r="4.35"/><text x=".5" y="3.2">16</text></g>
<g transform="translate(376.4 715.9) rotate(6)"><circle r="4.35"/><text x=".5" y="3.2">17</text></g>
<g transform="translate(389.4 714.6) rotate(5)"><circle r="4.35"/><text x=".5" y="3.2">18</text></g>
<g transform="translate(402.4 713.8) rotate(3)"><circle r="4.35"/><text x=".5" y="3.2">19</text></g>
<g transform="translate(440.4 713.8) rotate(-3)"><circle r="4.35"/><text x=".5" y="3.2">20</text></g>
<g transform="translate(453.4 714.6) rotate(-5)"><circle r="4.35"/><text x=".5" y="3.2">21</text></g>
<g transform="translate(466.4 715.9) rotate(-6)"><circle r="4.35"/><text x=".5" y="3.2">22</text></g>
<g transform="translate(479.4 717.5) rotate(-8)"><circle r="4.35"/><text x=".5" y="3.2">23</text></g>
<g transform="translate(492.2 719.6) rotate(-10)"><circle r="4.35"/><text x=".5" y="3.2">24</text></g>
<g transform="translate(505.0 722.1) rotate(-12)"><circle r="4.35"/><text x=".5" y="3.2">25</text></g>
<g transform="translate(517.8 725.0) rotate(-14)"><circle r="4.35"/><text x=".5" y="3.2">26</text></g>
<g transform="translate(530.4 728.3) rotate(-16)"><circle r="4.35"/><text x=".5" y="3.2">27</text></g>
<g transform="translate(542.9 732.0) rotate(-18)"><circle r="4.35"/><text x=".5" y="3.2">28</text></g>
<g transform="translate(555.3 736.2) rotate(-19)"><circle r="4.35"/><text x=".5" y="3.2">29</text></g>
<g transform="translate(567.5 740.7) rotate(-21)"><circle r="4.35"/><text x=".5" y="3.2">30</text></g>
<g transform="translate(579.6 745.6) rotate(-23)"><circle r="4.35"/><text x=".5" y="3.2">31</text></g>
<g transform="translate(591.5 750.9) rotate(-25)"><circle r="4.35"/><text x=".5" y="3.2">32</text></g>
<g transform="translate(603.2 756.6) rotate(-27)"><circle r="4.35"/><text x=".5" y="3.2">33</text></g>
<g transform="translate(637.4 776.0) rotate(-32)"><circle r="4.35"/><text x=".5" y="3.2">34</text></g>
<g transform="translate(648.3 783.2) rotate(-34)"><circle r="4.35"/><text x=".5" y="3.2">35</text></g>
<g transform="translate(659.0 790.7) rotate(-36)"><circle r="4.35"/><text x=".5" y="3.2">36</text></g>
<g transform="translate(669.4 798.5) rotate(-38)"><circle r="4.35"/><text x=".5" y="3.2">37</text></g>
<g transform="translate(679.6 806.7) rotate(-40)"><circle r="4.35"/><text x=".5" y="3.2">38</text></g>
<g transform="translate(146.9 848.9) rotate(46)"><circle r="4.35"/><text class="o" x=".4" y="3.7">1</text></g>
<g transform="translate(156.4 839.6) rotate(44)"><circle r="4.35"/><text class="o" x=".4" y="3.7">2</text></g>
<g transform="translate(166.2 830.5) rotate(42)"><circle r="4.35"/><text class="o" x=".4" y="3.7">3</text></g>
<g transform="translate(176.3 821.9) rotate(40)"><circle r="4.35"/><text class="o" x=".4" y="3.7">4</text></g>
<g transform="translate(186.7 813.5) rotate(38)"><circle r="4.35"/><text class="o" x=".4" y="3.7">5</text></g>
<g transform="translate(197.4 805.6) rotate(36)"><circle r="4.35"/><text class="o" x=".4" y="3.7">6</text></g>
<g transform="translate(208.3 798.0) rotate(34)"><circle r="4.35"/><text class="o" x=".4" y="3.7">7</text></g>
<g transform="translate(219.5 790.8) rotate(32)"><circle r="4.35"/><text class="o" x=".4" y="3.7">8</text></g>
<g transform="translate(231.0 784.0) rotate(30)"><circle r="4.35"/><text class="o" x=".4" y="3.7">9</text></g>
<g transform="translate(254.6 771.5) rotate(26)"><circle r="4.35"/><text x=".5" y="3.2">10</text></g>
<g transform="translate(266.7 765.9) rotate(24)"><circle r="4.35"/><text x=".5" y="3.2">11</text></g>
<g transform="translate(279.0 760.8) rotate(22)"><circle r="4.35"/><text x=".5" y="3.2">12</text></g>
<g transform="translate(291.4 756.1) rotate(20)"><circle r="4.35"/><text x=".5" y="3.2">13</text></g>
<g transform="translate(304.0 751.8) rotate(18)"><circle r="4.35"/><text x=".5" y="3.2">14</text></g>
<g transform="translate(316.7 747.9) rotate(16)"><circle r="4.35"/><text x=".5" y="3.2">15</text></g>
<g transform="translate(329.6 744.5) rotate(14)"><circle r="4.35"/><text x=".5" y="3.2">16</text></g>
<g transform="translate(342.5 741.6) rotate(12)"><circle r="4.35"/><text x=".5" y="3.2">17</text></g>
<g transform="translate(355.6 739.1) rotate(10)"><circle r="4.35"/><text x=".5" y="3.2">18</text></g>
<g transform="translate(368.7 737.0) rotate(8)"><circle r="4.35"/><text x=".5" y="3.2">19</text></g>
<g transform="translate(382.0 735.4) rotate(6)"><circle r="4.35"/><text x=".5" y="3.2">20</text></g>
<g transform="translate(395.2 734.3) rotate(4)"><circle r="4.35"/><text x=".5" y="3.2">21</text></g>
<g transform="translate(408.5 733.6) rotate(2)"><circle r="4.35"/><text x=".5" y="3.2">22</text></g>
<g transform="translate(434.3 733.6) rotate(-2)"><circle r="4.35"/><text x=".5" y="3.2">23</text></g>
<g transform="translate(447.6 734.3) rotate(-4)"><circle r="4.35"/><text x=".5" y="3.2">24</text></g>
<g transform="translate(460.8 735.4) rotate(-6)"><circle r="4.35"/><text x=".5" y="3.2">25</text></g>
<g transform="translate(474.1 737.0) rotate(-8)"><circle r="4.35"/><text x=".5" y="3.2">26</text></g>
<g transform="translate(487.2 739.1) rotate(-10)"><circle r="4.35"/><text x=".5" y="3.2">27</text></g>
<g transform="translate(500.3 741.6) rotate(-12)"><circle r="4.35"/><text x=".5" y="3.2">28</text></g>
<g transform="translate(513.2 744.5) rotate(-14)"><circle r="4.35"/><text x=".5" y="3.2">29</text></g>
<g transform="translate(526.1 747.9) rotate(-16)"><circle r="4.35"/><text x=".5" y="3.2">30</text></g>
<g transform="translate(538.8 751.8) rotate(-18)"><circle r="4.35"/><text x=".5" y="3.2">31</text></g>
<g transform="translate(551.4 756.1) rotate(-20)"><circle r="4.35"/><text x=".5" y="3.2">32</text></g>
<g transform="translate(563.8 760.8) rotate(-22)"><circle r="4.35"/><text x=".5" y="3.2">33</text></g>
<g transform="translate(576.1 765.9) rotate(-24)"><circle r="4.35"/><text x=".5" y="3.2">34</text></g>
<g transform="translate(588.2 771.5) rotate(-26)"><circle r="4.35"/><text x=".5" y="3.2">35</text></g>
<g transform="translate(612.3 784.2) rotate(-30)"><circle r="4.35"/><text x=".5" y="3.2">36</text></g>
<g transform="translate(623.7 791.0) rotate(-32)"><circle r="4.35"/><text x=".5" y="3.2">37</text></g>
<g transform="translate(634.9 798.3) rotate(-34)"><circle r="4.35"/><text x=".5" y="3.2">38</text></g>
<g transform="translate(645.8 805.9) rotate(-36)"><circle r="4.35"/><text x=".5" y="3.2">39</text></g>
<g transform="translate(656.5 813.8) rotate(-38)"><circle r="4.35"/><text x=".5" y="3.2">40</text></g>
<g transform="translate(666.9 822.2) rotate(-40)"><circle r="4.35"/><text x=".5" y="3.2">41</text></g>
<g transform="translate(677.0 830.9) rotate(-42)"><circle r="4.35"/><text x=".5" y="3.2">42</text></g>
<g transform="translate(686.8 839.9) rotate(-44)"><circle r="4.35"/><text x=".5" y="3.2">43</text></g>
<g transform="translate(157.9 864.6) rotate(46)"><circle r="4.35"/><text class="o" x=".4" y="3.7">1</text></g>
<g transform="translate(166.6 855.9) rotate(44)"><circle r="4.35"/><text class="o" x=".4" y="3.7">2</text></g>
<g transform="translate(175.5 847.5) rotate(42)"><circle r="4.35"/><text class="o" x=".4" y="3.7">3</text></g>
<g transform="translate(184.6 839.4) rotate(40)"><circle r="4.35"/><text class="o" x=".4" y="3.7">4</text></g>
<g transform="translate(194.1 831.6) rotate(39)"><circle r="4.35"/><text class="o" x=".4" y="3.7">5</text></g>
<g transform="translate(203.8 824.2) rotate(37)"><circle r="4.35"/><text class="o" x=".4" y="3.7">6</text></g>
<g transform="translate(213.7 817.0) rotate(35)"><circle r="4.35"/><text class="o" x=".4" y="3.7">7</text></g>
<g transform="translate(223.9 810.3) rotate(33)"><circle r="4.35"/><text class="o" x=".4" y="3.7">8</text></g>
<g transform="translate(234.3 803.8) rotate(31)"><circle r="4.35"/><text class="o" x=".4" y="3.7">9</text></g>
<g transform="translate(255.6 792.0) rotate(27)"><circle r="4.35"/><text x=".5" y="3.2">10</text></g>
<g transform="translate(266.7 786.6) rotate(25)"><circle r="4.35"/><text x=".5" y="3.2">11</text></g>
<g transform="translate(277.9 781.6) rotate(23)"><circle r="4.35"/><text x=".5" y="3.2">12</text></g>
<g transform="translate(289.3 776.9) rotate(21)"><circle r="4.35"/><text x=".5" y="3.2">13</text></g>
<g transform="translate(300.9 772.7) rotate(19)"><circle r="4.35"/><text x=".5" y="3.2">14</text></g>
<g transform="translate(312.6 768.8) rotate(17)"><circle r="4.35"/><text x=".5" y="3.2">15</text></g>
<g transform="translate(324.4 765.3) rotate(15)"><circle r="4.35"/><text x=".5" y="3.2">16</text></g>
<g transform="translate(336.3 762.3) rotate(13)"><circle r="4.35"/><text x=".5" y="3.2">17</text></g>
<g transform="translate(348.3 759.6) rotate(12)"><circle r="4.35"/><text x=".5" y="3.2">18</text></g>
<g transform="translate(360.4 757.3) rotate(10)"><circle r="4.35"/><text x=".5" y="3.2">19</text></g>
<g transform="translate(372.6 755.5) rotate(8)"><circle r="4.35"/><text x=".5" y="3.2">20</text></g>
<g transform="translate(384.8 754.0) rotate(6)"><circle r="4.35"/><text x=".5" y="3.2">21</text></g>
<g transform="translate(397.1 753.0) rotate(4)"><circle r="4.35"/><text x=".5" y="3.2">22</text></g>
<g transform="translate(409.4 752.4) rotate(2)"><circle r="4.35"/><text x=".5" y="3.2">23</text></g>
<g transform="translate(433.4 752.4) rotate(-2)"><circle r="4.35"/><text x=".5" y="3.2">24</text></g>
<g transform="translate(445.7 753.0) rotate(-4)"><circle r="4.35"/><text x=".5" y="3.2">25</text></g>
<g transform="translate(458.0 754.0) rotate(-6)"><circle r="4.35"/><text x=".5" y="3.2">26</text></g>
<g transform="translate(470.2 755.5) rotate(-8)"><circle r="4.35"/><text x=".5" y="3.2">27</text></g>
<g transform="translate(482.4 757.3) rotate(-10)"><circle r="4.35"/><text x=".5" y="3.2">28</text></g>
<g transform="translate(494.5 759.6) rotate(-12)"><circle r="4.35"/><text x=".5" y="3.2">29</text></g>
<g transform="translate(506.5 762.3) rotate(-13)"><circle r="4.35"/><text x=".5" y="3.2">30</text></g>
<g transform="translate(518.4 765.3) rotate(-15)"><circle r="4.35"/><text x=".5" y="3.2">31</text></g>
<g transform="translate(530.2 768.8) rotate(-17)"><circle r="4.35"/><text x=".5" y="3.2">32</text></g>
<g transform="translate(541.9 772.7) rotate(-19)"><circle r="4.35"/><text x=".5" y="3.2">33</text></g>
<g transform="translate(553.5 776.9) rotate(-21)"><circle r="4.35"/><text x=".5" y="3.2">34</text></g>
<g transform="translate(564.9 781.6) rotate(-23)"><circle r="4.35"/><text x=".5" y="3.2">35</text></g>
<g transform="translate(576.1 786.6) rotate(-25)"><circle r="4.35"/><text x=".5" y="3.2">36</text></g>
<g transform="translate(587.2 792.0) rotate(-27)"><circle r="4.35"/><text x=".5" y="3.2">37</text></g>
<g transform="translate(608.5 803.8) rotate(-31)"><circle r="4.35"/><text x=".5" y="3.2">38</text></g>
<g transform="translate(618.9 810.3) rotate(-33)"><circle r="4.35"/><text x=".5" y="3.2">39</text></g>
<g transform="translate(629.1 817.0) rotate(-35)"><circle r="4.35"/><text x=".5" y="3.2">40</text></g>
<g transform="translate(639.0 824.2) rotate(-37)"><circle r="4.35"/><text x=".5" y="3.2">41</text></g>
<g transform="translate(648.7 831.6) rotate(-39)"><circle r="4.35"/><text x=".5" y="3.2">42</text></g>
<g transform="translate(658.2 839.4) rotate(-40)"><circle r="4.35"/><text x=".5" y="3.2">43</text></g>
<g transform="translate(667.3 847.5) rotate(-42)"><circle r="4.35"/><text x=".5" y="3.2">44</text></g>
<g transform="translate(676.2 855.9) rotate(-44)"><circle r="4.35"/><text x=".5" y="3.2">45</text></g>
<g transform="translate(684.9 864.6) rotate(-46)"><circle r="4.35"/><text x=".5" y="3.2">46</text></g>
<g transform="translate(188.5 863.0) rotate(43)"><circle r="4.35"/><text class="o" x=".4" y="3.7">1</text></g>
<g transform="translate(197.3 855.3) rotate(41)"><circle r="4.35"/><text class="o" x=".4" y="3.7">2</text></g>
<g transform="translate(206.3 847.8) rotate(39)"><circle r="4.35"/><text class="o" x=".4" y="3.7">3</text></g>
<g transform="translate(215.5 840.7) rotate(37)"><circle r="4.35"/><text class="o" x=".4" y="3.7">4</text></g>
<g transform="translate(225.0 833.9) rotate(35)"><circle r="4.35"/><text class="o" x=".4" y="3.7">5</text></g>
<g transform="translate(234.7 827.4) rotate(33)"><circle r="4.35"/><text class="o" x=".4" y="3.7">6</text></g>
<g transform="translate(244.7 821.2) rotate(31)"><circle r="4.35"/><text class="o" x=".4" y="3.7">7</text></g>
<g transform="translate(254.8 815.4) rotate(29)"><circle r="4.35"/><text class="o" x=".4" y="3.7">8</text></g>
<g transform="translate(275.5 804.9) rotate(25)"><circle r="4.35"/><text class="o" x=".4" y="3.7">9</text></g>
<g transform="translate(286.0 800.2) rotate(23)"><circle r="4.35"/><text x=".5" y="3.2">10</text></g>
<g transform="translate(296.7 795.8) rotate(21)"><circle r="4.35"/><text x=".5" y="3.2">11</text></g>
<g transform="translate(307.5 791.8) rotate(19)"><circle r="4.35"/><text x=".5" y="3.2">12</text></g>
<g transform="translate(318.5 788.2) rotate(17)"><circle r="4.35"/><text x=".5" y="3.2">13</text></g>
<g transform="translate(329.6 784.9) rotate(15)"><circle r="4.35"/><text x=".5" y="3.2">14</text></g>
<g transform="translate(340.8 782.0) rotate(14)"><circle r="4.35"/><text x=".5" y="3.2">15</text></g>
<g transform="translate(352.1 779.5) rotate(12)"><circle r="4.35"/><text x=".5" y="3.2">16</text></g>
<g transform="translate(363.4 777.4) rotate(10)"><circle r="4.35"/><text x=".5" y="3.2">17</text></g>
<g transform="translate(374.9 775.6) rotate(8)"><circle r="4.35"/><text x=".5" y="3.2">18</text></g>
<g transform="translate(386.3 774.3) rotate(6)"><circle r="4.35"/><text x=".5" y="3.2">19</text></g>
<g transform="translate(397.9 773.3) rotate(4)"><circle r="4.35"/><text x=".5" y="3.2">20</text></g>
<g transform="translate(409.4 772.7) rotate(2)"><circle r="4.35"/><text x=".5" y="3.2">21</text></g>
<g transform="translate(433.4 772.7) rotate(-2)"><circle r="4.35"/><text x=".5" y="3.2">22</text></g>
<g transform="translate(444.9 773.3) rotate(-4)"><circle r="4.35"/><text x=".5" y="3.2">23</text></g>
<g transform="translate(456.5 774.3) rotate(-6)"><circle r="4.35"/><text x=".5" y="3.2">24</text></g>
<g transform="translate(467.9 775.6) rotate(-8)"><circle r="4.35"/><text x=".5" y="3.2">25</text></g>
<g transform="translate(479.4 777.4) rotate(-10)"><circle r="4.35"/><text x=".5" y="3.2">26</text></g>
<g transform="translate(490.7 779.5) rotate(-12)"><circle r="4.35"/><text x=".5" y="3.2">27</text></g>
<g transform="translate(502.0 782.0) rotate(-14)"><circle r="4.35"/><text x=".5" y="3.2">28</text></g>
<g transform="translate(513.2 784.9) rotate(-15)"><circle r="4.35"/><text x=".5" y="3.2">29</text></g>
<g transform="translate(524.3 788.2) rotate(-17)"><circle r="4.35"/><text x=".5" y="3.2">30</text></g>
<g transform="translate(535.3 791.8) rotate(-19)"><circle r="4.35"/><text x=".5" y="3.2">31</text></g>
<g transform="translate(546.1 795.8) rotate(-21)"><circle r="4.35"/><text x=".5" y="3.2">32</text></g>
<g transform="translate(556.8 800.2) rotate(-23)"><circle r="4.35"/><text x=".5" y="3.2">33</text></g>
<g transform="translate(567.3 804.9) rotate(-25)"><circle r="4.35"/><text x=".5" y="3.2">34</text></g>
<g transform="translate(588.0 815.4) rotate(-29)"><circle r="4.35"/><text x=".5" y="3.2">35</text></g>
<g transform="translate(598.1 821.2) rotate(-31)"><circle r="4.35"/><text x=".5" y="3.2">36</text></g>
<g transform="translate(608.1 827.4) rotate(-33)"><circle r="4.35"/><text x=".5" y="3.2">37</text></g>
<g transform="translate(617.8 833.9) rotate(-35)"><circle r="4.35"/><text x=".5" y="3.2">38</text></g>
<g transform="translate(627.3 840.7) rotate(-37)"><circle r="4.35"/><text x=".5" y="3.2">39</text></g>
<g transform="translate(636.5 847.8) rotate(-39)"><circle r="4.35"/><text x=".5" y="3.2">40</text></g>
<g transform="translate(645.5 855.3) rotate(-41)"><circle r="4.35"/><text x=".5" y="3.2">41</text></g>
<g transform="translate(654.3 863.0) rotate(-43)"><circle r="4.35"/><text x=".5" y="3.2">42</text></g>
<g transform="translate(685.8 896.0) rotate(-50)"><circle r="4.35"/><text x=".5" y="3.2">43</text></g>
<g transform="translate(693.3 905.3) rotate(-52)"><circle r="4.35"/><text x=".5" y="3.2">44</text></g>
<g transform="translate(129.7 971.8) rotate(64)"><circle r="4.35"/><text class="o" x=".4" y="3.7">1</text></g>
<g transform="translate(135.1 961.5) rotate(61)"><circle r="4.35"/><text class="o" x=".4" y="3.7">2</text></g>
<g transform="translate(140.7 951.5) rotate(59)"><circle r="4.35"/><text class="o" x=".4" y="3.7">3</text></g>
<g transform="translate(146.8 941.7) rotate(57)"><circle r="4.35"/><text class="o" x=".4" y="3.7">4</text></g>
<g transform="translate(153.1 932.1) rotate(55)"><circle r="4.35"/><text class="o" x=".4" y="3.7">5</text></g>
<g transform="translate(159.9 922.7) rotate(53)"><circle r="4.35"/><text class="o" x=".4" y="3.7">6</text></g>
<g transform="translate(166.9 913.6) rotate(51)"><circle r="4.35"/><text class="o" x=".4" y="3.7">7</text></g>
<g transform="translate(174.3 904.7) rotate(49)"><circle r="4.35"/><text class="o" x=".4" y="3.7">8</text></g>
<g transform="translate(190.8 886.9) rotate(45)"><circle r="4.35"/><text class="o" x=".4" y="3.7">9</text></g>
<g transform="translate(199.1 878.8) rotate(43)"><circle r="4.35"/><text x=".5" y="3.2">10</text></g>
<g transform="translate(207.7 871.1) rotate(41)"><circle r="4.35"/><text x=".5" y="3.2">11</text></g>
<g transform="translate(216.6 863.7) rotate(39)"><circle r="4.35"/><text x=".5" y="3.2">12</text></g>
<g transform="translate(225.7 856.6) rotate(37)"><circle r="4.35"/><text x=".5" y="3.2">13</text></g>
<g transform="translate(235.1 849.8) rotate(35)"><circle r="4.35"/><text x=".5" y="3.2">14</text></g>
<g transform="translate(244.7 843.3) rotate(33)"><circle r="4.35"/><text x=".5" y="3.2">15</text></g>
<g transform="translate(254.5 837.2) rotate(31)"><circle r="4.35"/><text x=".5" y="3.2">16</text></g>
<g transform="translate(264.6 831.5) rotate(29)"><circle r="4.35"/><text x=".5" y="3.2">17</text></g>
<g transform="translate(285.7 820.8) rotate(25)"><circle r="4.35"/><text x=".5" y="3.2">18</text></g>
<g transform="translate(296.4 816.2) rotate(23)"><circle r="4.35"/><text x=".5" y="3.2">19</text></g>
<g transform="translate(307.2 811.9) rotate(21)"><circle r="4.35"/><text x=".5" y="3.2">20</text></g>
<g transform="translate(318.1 808.0) rotate(18)"><circle r="4.35"/><text x=".5" y="3.2">21</text></g>
<g transform="translate(329.2 804.5) rotate(16)"><circle r="4.35"/><text x=".5" y="3.2">22</text></g>
<g transform="translate(340.5 801.5) rotate(14)"><circle r="4.35"/><text x=".5" y="3.2">23</text></g>
<g transform="translate(351.8 798.8) rotate(12)"><circle r="4.35"/><text x=".5" y="3.2">24</text></g>
<g transform="translate(363.2 796.5) rotate(10)"><circle r="4.35"/><text x=".5" y="3.2">25</text></g>
<g transform="translate(374.6 794.6) rotate(8)"><circle r="4.35"/><text x=".5" y="3.2">26</text></g>
<g transform="translate(386.2 793.2) rotate(6)"><circle r="4.35"/><text x=".5" y="3.2">27</text></g>
<g transform="translate(397.8 792.1) rotate(4)"><circle r="4.35"/><text x=".5" y="3.2">28</text></g>
<g transform="translate(409.4 791.5) rotate(2)"><circle r="4.35"/><text x=".5" y="3.2">29</text></g>
<g transform="translate(433.4 791.5) rotate(-2)"><circle r="4.35"/><text x=".5" y="3.2">30</text></g>
<g transform="translate(445.0 792.1) rotate(-4)"><circle r="4.35"/><text x=".5" y="3.2">31</text></g>
<g transform="translate(456.6 793.2) rotate(-6)"><circle r="4.35"/><text x=".5" y="3.2">32</text></g>
<g transform="translate(468.2 794.6) rotate(-8)"><circle r="4.35"/><text x=".5" y="3.2">33</text></g>
<g transform="translate(479.6 796.5) rotate(-10)"><circle r="4.35"/><text x=".5" y="3.2">34</text></g>
<g transform="translate(491.0 798.8) rotate(-12)"><circle r="4.35"/><text x=".5" y="3.2">35</text></g>
<g transform="translate(502.3 801.5) rotate(-14)"><circle r="4.35"/><text x=".5" y="3.2">36</text></g>
<g transform="translate(513.6 804.5) rotate(-16)"><circle r="4.35"/><text x=".5" y="3.2">37</text></g>
<g transform="translate(524.7 808.0) rotate(-18)"><circle r="4.35"/><text x=".5" y="3.2">38</text></g>
<g transform="translate(535.6 811.9) rotate(-21)"><circle r="4.35"/><text x=".5" y="3.2">39</text></g>
<g transform="translate(546.4 816.2) rotate(-23)"><circle r="4.35"/><text x=".5" y="3.2">40</text></g>
<g transform="translate(557.1 820.8) rotate(-25)"><circle r="4.35"/><text x=".5" y="3.2">41</text></g>
<g transform="translate(578.2 831.5) rotate(-29)"><circle r="4.35"/><text x=".5" y="3.2">42</text></g>
<g transform="translate(588.3 837.2) rotate(-31)"><circle r="4.35"/><text x=".5" y="3.2">43</text></g>
<g transform="translate(598.1 843.3) rotate(-33)"><circle r="4.35"/><text x=".5" y="3.2">44</text></g>
<g transform="translate(607.7 849.8) rotate(-35)"><circle r="4.35"/><text x=".5" y="3.2">45</text></g>
<g transform="translate(617.1 856.6) rotate(-37)"><circle r="4.35"/><text x=".5" y="3.2">46</text></g>
<g transform="translate(626.2 863.7) rotate(-39)"><circle r="4.35"/><text x=".5" y="3.2">47</text></g>
<g transform="translate(635.1 871.1) rotate(-41)"><circle r="4.35"/><text x=".5" y="3.2">48</text></g>
<g transform="translate(643.7 878.8) rotate(-43)"><circle r="4.35"/><text x=".5" y="3.2">49</text></g>
<g transform="translate(652.0 886.9) rotate(-45)"><circle r="4.35"/><text x=".5" y="3.2">50</text></g>
<g transform="translate(668.5 904.7) rotate(-49)"><circle r="4.35"/><text x=".5" y="3.2">51</text></g>
<g transform="translate(675.9 913.6) rotate(-51)"><circle r="4.35"/><text x=".5" y="3.2">52</text></g>
<g transform="translate(682.9 922.7) rotate(-53)"><circle r="4.35"/><text x=".5" y="3.2">53</text></g>
<g transform="translate(689.7 932.1) rotate(-55)"><circle r="4.35"/><text x=".5" y="3.2">54</text></g>
<g transform="translate(696.0 941.7) rotate(-57)"><circle r="4.35"/><text x=".5" y="3.2">55</text></g>
<g transform="translate(702.1 951.5) rotate(-59)"><circle r="4.35"/><text x=".5" y="3.2">56</text></g>
<g transform="translate(707.7 961.5) rotate(-61)"><circle r="4.35"/><text x=".5" y="3.2">57</text></g>
<g transform="translate(713.1 971.8) rotate(-64)"><circle r="4.35"/><text x=".5" y="3.2">58</text></g>
<g transform="translate(141.8 990.7) rotate(66)"><circle r="4.35"/><text class="o" x=".4" y="3.7">1</text></g>
<g transform="translate(146.6 980.5) rotate(64)"><circle r="4.35"/><text class="o" x=".4" y="3.7">2</text></g>
<g transform="translate(151.9 970.5) rotate(61)"><circle r="4.35"/><text class="o" x=".4" y="3.7">3</text></g>
<g transform="translate(157.4 960.6) rotate(59)"><circle r="4.35"/><text class="o" x=".4" y="3.7">4</text></g>
<g transform="translate(163.4 951.0) rotate(57)"><circle r="4.35"/><text class="o" x=".4" y="3.7">5</text></g>
<g transform="translate(169.7 941.6) rotate(55)"><circle r="4.35"/><text class="o" x=".4" y="3.7">6</text></g>
<g transform="translate(176.3 932.5) rotate(53)"><circle r="4.35"/><text class="o" x=".4" y="3.7">7</text></g>
<g transform="translate(183.3 923.6) rotate(51)"><circle r="4.35"/><text class="o" x=".4" y="3.7">8</text></g>
<g transform="translate(190.6 914.9) rotate(49)"><circle r="4.35"/><text class="o" x=".4" y="3.7">9</text></g>
<g transform="translate(206.7 897.9) rotate(44)"><circle r="4.35"/><text x=".5" y="3.2">10</text></g>
<g transform="translate(214.9 890.1) rotate(42)"><circle r="4.35"/><text x=".5" y="3.2">11</text></g>
<g transform="translate(223.4 882.7) rotate(40)"><circle r="4.35"/><text x=".5" y="3.2">12</text></g>
<g transform="translate(232.2 875.6) rotate(38)"><circle r="4.35"/><text x=".5" y="3.2">13</text></g>
<g transform="translate(241.2 868.8) rotate(36)"><circle r="4.35"/><text x=".5" y="3.2">14</text></g>
<g transform="translate(250.4 862.3) rotate(34)"><circle r="4.35"/><text x=".5" y="3.2">15</text></g>
<g transform="translate(259.9 856.2) rotate(32)"><circle r="4.35"/><text x=".5" y="3.2">16</text></g>
<g transform="translate(269.7 850.4) rotate(30)"><circle r="4.35"/><text x=".5" y="3.2">17</text></g>
<g transform="translate(289.4 840.1) rotate(25)"><circle r="4.35"/><text x=".5" y="3.2">18</text></g>
<g transform="translate(299.8 835.4) rotate(23)"><circle r="4.35"/><text x=".5" y="3.2">19</text></g>
<g transform="translate(310.3 831.1) rotate(21)"><circle r="4.35"/><text x=".5" y="3.2">20</text></g>
<g transform="translate(321.0 827.2) rotate(19)"><circle r="4.35"/><text x=".5" y="3.2">21</text></g>
<g transform="translate(331.8 823.6) rotate(17)"><circle r="4.35"/><text x=".5" y="3.2">22</text></g>
<g transform="translate(342.8 820.5) rotate(15)"><circle r="4.35"/><text x=".5" y="3.2">23</text></g>
<g transform="translate(353.8 817.8) rotate(13)"><circle r="4.35"/><text x=".5" y="3.2">24</text></g>
<g transform="translate(365.0 815.5) rotate(11)"><circle r="4.35"/><text x=".5" y="3.2">25</text></g>
<g transform="translate(376.2 813.6) rotate(8)"><circle r="4.35"/><text x=".5" y="3.2">26</text></g>
<g transform="translate(387.5 812.1) rotate(6)"><circle r="4.35"/><text x=".5" y="3.2">27</text></g>
<g transform="translate(398.8 811.1) rotate(4)"><circle r="4.35"/><text x=".5" y="3.2">28</text></g>
<g transform="translate(410.2 810.5) rotate(2)"><circle r="4.35"/><text x=".5" y="3.2">29</text></g>
<g transform="translate(432.6 810.5) rotate(-2)"><circle r="4.35"/><text x=".5" y="3.2">30</text></g>
<g transform="translate(444.0 811.1) rotate(-4)"><circle r="4.35"/><text x=".5" y="3.2">31</text></g>
<g transform="translate(455.3 812.1) rotate(-6)"><circle r="4.35"/><text x=".5" y="3.2">32</text></g>
<g transform="translate(466.6 813.6) rotate(-8)"><circle r="4.35"/><text x=".5" y="3.2">33</text></g>
<g transform="translate(477.8 815.5) rotate(-11)"><circle r="4.35"/><text x=".5" y="3.2">34</text></g>
<g transform="translate(489.0 817.8) rotate(-13)"><circle r="4.35"/><text x=".5" y="3.2">35</text></g>
<g transform="translate(500.0 820.5) rotate(-15)"><circle r="4.35"/><text x=".5" y="3.2">36</text></g>
<g transform="translate(511.0 823.6) rotate(-17)"><circle r="4.35"/><text x=".5" y="3.2">37</text></g>
<g transform="translate(521.8 827.2) rotate(-19)"><circle r="4.35"/><text x=".5" y="3.2">38</text></g>
<g transform="translate(532.5 831.1) rotate(-21)"><circle r="4.35"/><text x=".5" y="3.2">39</text></g>
<g transform="translate(543.0 835.4) rotate(-23)"><circle r="4.35"/><text x=".5" y="3.2">40</text></g>
<g transform="translate(553.4 840.1) rotate(-25)"><circle r="4.35"/><text x=".5" y="3.2">41</text></g>
<g transform="translate(573.1 850.4) rotate(-30)"><circle r="4.35"/><text x=".5" y="3.2">42</text></g>
<g transform="translate(582.9 856.2) rotate(-32)"><circle r="4.35"/><text x=".5" y="3.2">43</text></g>
<g transform="translate(592.4 862.3) rotate(-34)"><circle r="4.35"/><text x=".5" y="3.2">44</text></g>
<g transform="translate(601.6 868.8) rotate(-36)"><circle r="4.35"/><text x=".5" y="3.2">45</text></g>
<g transform="translate(610.6 875.6) rotate(-38)"><circle r="4.35"/><text x=".5" y="3.2">46</text></g>
<g transform="translate(619.4 882.7) rotate(-40)"><circle r="4.35"/><text x=".5" y="3.2">47</text></g>
<g transform="translate(627.9 890.1) rotate(-42)"><circle r="4.35"/><text x=".5" y="3.2">48</text></g>
<g transform="translate(636.1 897.9) rotate(-44)"><circle r="4.35"/><text x=".5" y="3.2">49</text></g>
<g transform="translate(652.3 915.0) rotate(-49)"><circle r="4.35"/><text x=".5" y="3.2">50</text></g>
<g transform="translate(659.6 923.7) rotate(-51)"><circle r="4.35"/><text x=".5" y="3.2">51</text></g>
<g transform="translate(666.6 932.6) rotate(-53)"><circle r="4.35"/><text x=".5" y="3.2">52</text></g>
<g transform="translate(673.2 941.8) rotate(-55)"><circle r="4.35"/><text x=".5" y="3.2">53</text></g>
<g transform="translate(679.5 951.2) rotate(-57)"><circle r="4.35"/><text x=".5" y="3.2">54</text></g>
<g transform="translate(685.5 960.8) rotate(-59)"><circle r="4.35"/><text x=".5" y="3.2">55</text></g>
<g transform="translate(691.1 970.7) rotate(-62)"><circle r="4.35"/><text x=".5" y="3.2">56</text></g>
<g transform="translate(696.3 980.8) rotate(-64)"><circle r="4.35"/><text x=".5" y="3.2">57</text></g>
<g transform="translate(164.1 987.9) rotate(63)"><circle r="4.35"/><text class="o" x=".4" y="3.7">1</text></g>
<g transform="translate(169.3 978.2) rotate(61)"><circle r="4.35"/><text class="o" x=".4" y="3.7">2</text></g>
<g transform="translate(174.8 968.7) rotate(59)"><circle r="4.35"/><text class="o" x=".4" y="3.7">3</text></g>
<g transform="translate(180.6 959.4) rotate(57)"><circle r="4.35"/><text class="o" x=".4" y="3.7">4</text></g>
<g transform="translate(186.8 950.3) rotate(55)"><circle r="4.35"/><text class="o" x=".4" y="3.7">5</text></g>
<g transform="translate(193.3 941.4) rotate(52)"><circle r="4.35"/><text class="o" x=".4" y="3.7">6</text></g>
<g transform="translate(200.2 932.9) rotate(50)"><circle r="4.35"/><text class="o" x=".4" y="3.7">7</text></g>
<g transform="translate(207.4 924.5) rotate(48)"><circle r="4.35"/><text class="o" x=".4" y="3.7">8</text></g>
<g transform="translate(222.7 908.8) rotate(44)"><circle r="4.35"/><text class="o" x=".4" y="3.7">9</text></g>
<g transform="translate(230.8 901.3) rotate(41)"><circle r="4.35"/><text x=".5" y="3.2">10</text></g>
<g transform="translate(239.2 894.2) rotate(39)"><circle r="4.35"/><text x=".5" y="3.2">11</text></g>
<g transform="translate(247.9 887.4) rotate(37)"><circle r="4.35"/><text x=".5" y="3.2">12</text></g>
<g transform="translate(256.8 880.9) rotate(35)"><circle r="4.35"/><text x=".5" y="3.2">13</text></g>
<g transform="translate(266.0 874.8) rotate(33)"><circle r="4.35"/><text x=".5" y="3.2">14</text></g>
<g transform="translate(275.4 869.0) rotate(30)"><circle r="4.35"/><text x=".5" y="3.2">15</text></g>
<g transform="translate(285.0 863.6) rotate(28)"><circle r="4.35"/><text x=".5" y="3.2">16</text></g>
<g transform="translate(304.8 853.9) rotate(24)"><circle r="4.35"/><text x=".5" y="3.2">17</text></g>
<g transform="translate(314.9 849.7) rotate(22)"><circle r="4.35"/><text x=".5" y="3.2">18</text></g>
<g transform="translate(325.0 845.8) rotate(20)"><circle r="4.35"/><text x=".5" y="3.2">19</text></g>
<g transform="translate(335.4 842.4) rotate(17)"><circle r="4.35"/><text x=".5" y="3.2">20</text></g>
<g transform="translate(345.8 839.3) rotate(15)"><circle r="4.35"/><text x=".5" y="3.2">21</text></g>
<g transform="translate(356.3 836.7) rotate(13)"><circle r="4.35"/><text x=".5" y="3.2">22</text></g>
<g transform="translate(367.0 834.4) rotate(11)"><circle r="4.35"/><text x=".5" y="3.2">23</text></g>
<g transform="translate(377.7 832.6) rotate(9)"><circle r="4.35"/><text x=".5" y="3.2">24</text></g>
<g transform="translate(388.5 831.1) rotate(7)"><circle r="4.35"/><text x=".5" y="3.2">25</text></g>
<g transform="translate(399.3 830.1) rotate(4)"><circle r="4.35"/><text x=".5" y="3.2">26</text></g>
<g transform="translate(410.2 829.5) rotate(2)"><circle r="4.35"/><text x=".5" y="3.2">27</text></g>
<g transform="translate(432.6 829.5) rotate(-2)"><circle r="4.35"/><text x=".5" y="3.2">28</text></g>
<g transform="translate(443.5 830.1) rotate(-4)"><circle r="4.35"/><text x=".5" y="3.2">29</text></g>
<g transform="translate(454.3 831.1) rotate(-7)"><circle r="4.35"/><text x=".5" y="3.2">30</text></g>
<g transform="translate(465.1 832.6) rotate(-9)"><circle r="4.35"/><text x=".5" y="3.2">31</text></g>
<g transform="translate(475.8 834.4) rotate(-11)"><circle r="4.35"/><text x=".5" y="3.2">32</text></g>
<g transform="translate(486.5 836.7) rotate(-13)"><circle r="4.35"/><text x=".5" y="3.2">33</text></g>
<g transform="translate(497.0 839.3) rotate(-15)"><circle r="4.35"/><text x=".5" y="3.2">34</text></g>
<g transform="translate(507.4 842.4) rotate(-17)"><circle r="4.35"/><text x=".5" y="3.2">35</text></g>
<g transform="translate(517.8 845.8) rotate(-20)"><circle r="4.35"/><text x=".5" y="3.2">36</text></g>
<g transform="translate(527.9 849.7) rotate(-22)"><circle r="4.35"/><text x=".5" y="3.2">37</text></g>
<g transform="translate(538.0 853.9) rotate(-24)"><circle r="4.35"/><text x=".5" y="3.2">38</text></g>
<g transform="translate(557.8 863.6) rotate(-28)"><circle r="4.35"/><text x=".5" y="3.2">39</text></g>
<g transform="translate(567.4 869.0) rotate(-30)"><circle r="4.35"/><text x=".5" y="3.2">40</text></g>
<g transform="translate(576.8 874.8) rotate(-33)"><circle r="4.35"/><text x=".5" y="3.2">41</text></g>
<g transform="translate(586.0 880.9) rotate(-35)"><circle r="4.35"/><text x=".5" y="3.2">42</text></g>
<g transform="translate(594.9 887.4) rotate(-37)"><circle r="4.35"/><text x=".5" y="3.2">43</text></g>
<g transform="translate(603.6 894.2) rotate(-39)"><circle r="4.35"/><text x=".5" y="3.2">44</text></g>
<g transform="translate(612.0 901.3) rotate(-41)"><circle r="4.35"/><text x=".5" y="3.2">45</text></g>
<g transform="translate(620.1 908.8) rotate(-44)"><circle r="4.35"/><text x=".5" y="3.2">46</text></g>
<g transform="translate(635.7 924.9) rotate(-48)"><circle r="4.35"/><text x=".5" y="3.2">47</text></g>
<g transform="translate(642.8 933.1) rotate(-50)"><circle r="4.35"/><text x=".5" y="3.2">48</text></g>
<g transform="translate(649.5 941.5) rotate(-52)"><circle r="4.35"/><text x=".5" y="3.2">49</text></g>
<g transform="translate(656.0 950.2) rotate(-55)"><circle r="4.35"/><text x=".5" y="3.2">50</text></g>
<g transform="translate(662.1 959.2) rotate(-57)"><circle r="4.35"/><text x=".5" y="3.2">51</text></g>
<g transform="translate(667.8 968.3) rotate(-59)"><circle r="4.35"/><text x=".5" y="3.2">52</text></g>
<g transform="translate(673.3 977.7) rotate(-61)"><circle r="4.35"/><text x=".5" y="3.2">53</text></g>
<g transform="translate(187.5 986.7) rotate(61)"><circle r="4.35"/><text class="o" x=".4" y="3.7">1</text></g>
<g transform="translate(192.8 977.6) rotate(59)"><circle r="4.35"/><text class="o" x=".4" y="3.7">2</text></g>
<g transform="translate(198.5 968.7) rotate(56)"><circle r="4.35"/><text class="o" x=".4" y="3.7">3</text></g>
<g transform="translate(204.5 960.1) rotate(54)"><circle r="4.35"/><text class="o" x=".4" y="3.7">4</text></g>
<g transform="translate(210.8 951.7) rotate(52)"><circle r="4.35"/><text class="o" x=".4" y="3.7">5</text></g>
<g transform="translate(217.5 943.5) rotate(50)"><circle r="4.35"/><text class="o" x=".4" y="3.7">6</text></g>
<g transform="translate(224.5 935.7) rotate(47)"><circle r="4.35"/><text class="o" x=".4" y="3.7">7</text></g>
<g transform="translate(239.4 920.6) rotate(43)"><circle r="4.35"/><text class="o" x=".4" y="3.7">8</text></g>
<g transform="translate(247.4 913.6) rotate(41)"><circle r="4.35"/><text class="o" x=".4" y="3.7">9</text></g>
<g transform="translate(255.5 906.9) rotate(38)"><circle r="4.35"/><text x=".5" y="3.2">10</text></g>
<g transform="translate(264.0 900.5) rotate(36)"><circle r="4.35"/><text x=".5" y="3.2">11</text></g>
<g transform="translate(272.6 894.4) rotate(34)"><circle r="4.35"/><text x=".5" y="3.2">12</text></g>
<g transform="translate(281.6 888.7) rotate(31)"><circle r="4.35"/><text x=".5" y="3.2">13</text></g>
<g transform="translate(290.7 883.4) rotate(29)"><circle r="4.35"/><text x=".5" y="3.2">14</text></g>
<g transform="translate(308.4 874.3) rotate(25)"><circle r="4.35"/><text x=".5" y="3.2">15</text></g>
<g transform="translate(318.1 870.1) rotate(23)"><circle r="4.35"/><text x=".5" y="3.2">16</text></g>
<g transform="translate(327.9 866.2) rotate(20)"><circle r="4.35"/><text x=".5" y="3.2">17</text></g>
<g transform="translate(337.8 862.7) rotate(18)"><circle r="4.35"/><text x=".5" y="3.2">18</text></g>
<g transform="translate(347.9 859.6) rotate(16)"><circle r="4.35"/><text x=".5" y="3.2">19</text></g>
<g transform="translate(358.1 856.9) rotate(14)"><circle r="4.35"/><text x=".5" y="3.2">20</text></g>
<g transform="translate(368.4 854.6) rotate(11)"><circle r="4.35"/><text x=".5" y="3.2">21</text></g>
<g transform="translate(378.8 852.7) rotate(9)"><circle r="4.35"/><text x=".5" y="3.2">22</text></g>
<g transform="translate(389.2 851.3) rotate(7)"><circle r="4.35"/><text x=".5" y="3.2">23</text></g>
<g transform="translate(399.7 850.2) rotate(5)"><circle r="4.35"/><text x=".5" y="3.2">24</text></g>
<g transform="translate(410.2 849.6) rotate(2)"><circle r="4.35"/><text x=".5" y="3.2">25</text></g>
<g transform="translate(432.6 849.6) rotate(-2)"><circle r="4.35"/><text x=".5" y="3.2">26</text></g>
<g transform="translate(443.1 850.2) rotate(-5)"><circle r="4.35"/><text x=".5" y="3.2">27</text></g>
<g transform="translate(453.6 851.3) rotate(-7)"><circle r="4.35"/><text x=".5" y="3.2">28</text></g>
<g transform="translate(464.0 852.7) rotate(-9)"><circle r="4.35"/><text x=".5" y="3.2">29</text></g>
<g transform="translate(474.4 854.6) rotate(-11)"><circle r="4.35"/><text x=".5" y="3.2">30</text></g>
<g transform="translate(484.7 856.9) rotate(-14)"><circle r="4.35"/><text x=".5" y="3.2">31</text></g>
<g transform="translate(494.9 859.6) rotate(-16)"><circle r="4.35"/><text x=".5" y="3.2">32</text></g>
<g transform="translate(505.0 862.7) rotate(-18)"><circle r="4.35"/><text x=".5" y="3.2">33</text></g>
<g transform="translate(514.9 866.2) rotate(-20)"><circle r="4.35"/><text x=".5" y="3.2">34</text></g>
<g transform="translate(524.7 870.1) rotate(-23)"><circle r="4.35"/><text x=".5" y="3.2">35</text></g>
<g transform="translate(534.4 874.3) rotate(-25)"><circle r="4.35"/><text x=".5" y="3.2">36</text></g>
<g transform="translate(552.1 883.4) rotate(-29)"><circle r="4.35"/><text x=".5" y="3.2">37</text></g>
<g transform="translate(561.2 888.7) rotate(-31)"><circle r="4.35"/><text x=".5" y="3.2">38</text></g>
<g transform="translate(570.2 894.4) rotate(-34)"><circle r="4.35"/><text x=".5" y="3.2">39</text></g>
<g transform="translate(578.8 900.5) rotate(-36)"><circle r="4.35"/><text x=".5" y="3.2">40</text></g>
<g transform="translate(587.3 906.9) rotate(-38)"><circle r="4.35"/><text x=".5" y="3.2">41</text></g>
<g transform="translate(595.4 913.6) rotate(-41)"><circle r="4.35"/><text x=".5" y="3.2">42</text></g>
<g transform="translate(603.4 920.6) rotate(-43)"><circle r="4.35"/><text x=".5" y="3.2">43</text></g>
<g transform="translate(618.3 935.7) rotate(-47)"><circle r="4.35"/><text x=".5" y="3.2">44</text></g>
<g transform="translate(625.3 943.5) rotate(-50)"><circle r="4.35"/><text x=".5" y="3.2">45</text></g>
<g transform="translate(632.0 951.7) rotate(-52)"><circle r="4.35"/><text x=".5" y="3.2">46</text></g>
<g transform="translate(638.3 960.1) rotate(-54)"><circle r="4.35"/><text x=".5" y="3.2">47</text></g>
<g transform="translate(644.3 968.7) rotate(-56)"><circle r="4.35"/><text x=".5" y="3.2">48</text></g>
<g transform="translate(650.0 977.6) rotate(-59)"><circle r="4.35"/><text x=".5" y="3.2">49</text></g>
<g transform="translate(655.3 986.7) rotate(-61)"><circle r="4.35"/><text x=".5" y="3.2">50</text></g>
<g transform="translate(204.2 995.8) rotate(61)"><circle r="4.35"/><text class="o" x=".4" y="3.7">1</text></g>
<g transform="translate(209.3 987.0) rotate(58)"><circle r="4.35"/><text class="o" x=".4" y="3.7">2</text></g>
<g transform="translate(214.8 978.5) rotate(56)"><circle r="4.35"/><text class="o" x=".4" y="3.7">3</text></g>
<g transform="translate(220.6 970.2) rotate(54)"><circle r="4.35"/><text class="o" x=".4" y="3.7">4</text></g>
<g transform="translate(226.8 962.2) rotate(51)"><circle r="4.35"/><text class="o" x=".4" y="3.7">5</text></g>
<g transform="translate(233.2 954.4) rotate(49)"><circle r="4.35"/><text class="o" x=".4" y="3.7">6</text></g>
<g transform="translate(240.0 946.8) rotate(47)"><circle r="4.35"/><text class="o" x=".4" y="3.7">7</text></g>
<g transform="translate(254.6 932.6) rotate(42)"><circle r="4.35"/><text class="o" x=".4" y="3.7">8</text></g>
<g transform="translate(262.3 925.8) rotate(40)"><circle r="4.35"/><text class="o" x=".4" y="3.7">9</text></g>
<g transform="translate(270.3 919.4) rotate(37)"><circle r="4.35"/><text x=".5" y="3.2">10</text></g>
<g transform="translate(278.6 913.4) rotate(35)"><circle r="4.35"/><text x=".5" y="3.2">11</text></g>
<g transform="translate(287.1 907.7) rotate(33)"><circle r="4.35"/><text x=".5" y="3.2">12</text></g>
<g transform="translate(295.9 902.3) rotate(30)"><circle r="4.35"/><text x=".5" y="3.2">13</text></g>
<g transform="translate(304.8 897.3) rotate(28)"><circle r="4.35"/><text x=".5" y="3.2">14</text></g>
<g transform="translate(322.7 888.7) rotate(23)"><circle r="4.35"/><text x=".5" y="3.2">15</text></g>
<g transform="translate(332.1 884.9) rotate(21)"><circle r="4.35"/><text x=".5" y="3.2">16</text></g>
<g transform="translate(341.8 881.4) rotate(19)"><circle r="4.35"/><text x=".5" y="3.2">17</text></g>
<g transform="translate(351.5 878.3) rotate(16)"><circle r="4.35"/><text x=".5" y="3.2">18</text></g>
<g transform="translate(361.4 875.7) rotate(14)"><circle r="4.35"/><text x=".5" y="3.2">19</text></g>
<g transform="translate(371.4 873.4) rotate(12)"><circle r="4.35"/><text x=".5" y="3.2">20</text></g>
<g transform="translate(381.4 871.5) rotate(9)"><circle r="4.35"/><text x=".5" y="3.2">21</text></g>
<g transform="translate(391.6 870.1) rotate(7)"><circle r="4.35"/><text x=".5" y="3.2">22</text></g>
<g transform="translate(401.7 869.1) rotate(5)"><circle r="4.35"/><text x=".5" y="3.2">23</text></g>
<g transform="translate(411.9 868.5) rotate(2)"><circle r="4.35"/><text x=".5" y="3.2">24</text></g>
<g transform="translate(430.9 868.5) rotate(-2)"><circle r="4.35"/><text x=".5" y="3.2">25</text></g>
<g transform="translate(441.1 869.1) rotate(-5)"><circle r="4.35"/><text x=".5" y="3.2">26</text></g>
<g transform="translate(451.2 870.1) rotate(-7)"><circle r="4.35"/><text x=".5" y="3.2">27</text></g>
<g transform="translate(461.4 871.5) rotate(-9)"><circle r="4.35"/><text x=".5" y="3.2">28</text></g>
<g transform="translate(471.4 873.4) rotate(-12)"><circle r="4.35"/><text x=".5" y="3.2">29</text></g>
<g transform="translate(481.4 875.7) rotate(-14)"><circle r="4.35"/><text x=".5" y="3.2">30</text></g>
<g transform="translate(491.3 878.3) rotate(-16)"><circle r="4.35"/><text x=".5" y="3.2">31</text></g>
<g transform="translate(501.0 881.4) rotate(-19)"><circle r="4.35"/><text x=".5" y="3.2">32</text></g>
<g transform="translate(510.7 884.9) rotate(-21)"><circle r="4.35"/><text x=".5" y="3.2">33</text></g>
<g transform="translate(520.1 888.7) rotate(-23)"><circle r="4.35"/><text x=".5" y="3.2">34</text></g>
<g transform="translate(538.0 897.3) rotate(-28)"><circle r="4.35"/><text x=".5" y="3.2">35</text></g>
<g transform="translate(546.9 902.3) rotate(-30)"><circle r="4.35"/><text x=".5" y="3.2">36</text></g>
<g transform="translate(555.7 907.7) rotate(-33)"><circle r="4.35"/><text x=".5" y="3.2">37</text></g>
<g transform="translate(564.2 913.4) rotate(-35)"><circle r="4.35"/><text x=".5" y="3.2">38</text></g>
<g transform="translate(572.5 919.4) rotate(-37)"><circle r="4.35"/><text x=".5" y="3.2">39</text></g>
<g transform="translate(580.5 925.8) rotate(-40)"><circle r="4.35"/><text x=".5" y="3.2">40</text></g>
<g transform="translate(588.2 932.6) rotate(-42)"><circle r="4.35"/><text x=".5" y="3.2">41</text></g>
<g transform="translate(603.1 947.1) rotate(-47)"><circle r="4.35"/><text x=".5" y="3.2">42</text></g>
<g transform="translate(609.7 954.5) rotate(-49)"><circle r="4.35"/><text x=".5" y="3.2">43</text></g>
<g transform="translate(616.1 962.2) rotate(-52)"><circle r="4.35"/><text x=".5" y="3.2">44</text></g>
<g transform="translate(622.2 970.2) rotate(-54)"><circle r="4.35"/><text x=".5" y="3.2">45</text></g>
<g transform="translate(627.9 978.4) rotate(-56)"><circle r="4.35"/><text x=".5" y="3.2">46</text></g>
<g transform="translate(633.3 986.8) rotate(-58)"><circle r="4.35"/><text x=".5" y="3.2">47</text></g>
<g transform="translate(226.8 996.8) rotate(58)"><circle r="4.35"/><text class="o" x=".4" y="3.7">1</text></g>
<g transform="translate(232.0 988.7) rotate(56)"><circle r="4.35"/><text class="o" x=".4" y="3.7">2</text></g>
<g transform="translate(237.6 980.8) rotate(53)"><circle r="4.35"/><text class="o" x=".4" y="3.7">3</text></g>
<g transform="translate(243.6 973.2) rotate(51)"><circle r="4.35"/><text class="o" x=".4" y="3.7">4</text></g>
<g transform="translate(249.8 965.8) rotate(49)"><circle r="4.35"/><text class="o" x=".4" y="3.7">5</text></g>
<g transform="translate(256.3 958.7) rotate(46)"><circle r="4.35"/><text class="o" x=".4" y="3.7">6</text></g>
<g transform="translate(270.6 945.0) rotate(41)"><circle r="4.35"/><text class="o" x=".4" y="3.7">7</text></g>
<g transform="translate(278.0 938.8) rotate(39)"><circle r="4.35"/><text class="o" x=".4" y="3.7">8</text></g>
<g transform="translate(285.7 932.9) rotate(36)"><circle r="4.35"/><text class="o" x=".4" y="3.7">9</text></g>
<g transform="translate(293.7 927.2) rotate(34)"><circle r="4.35"/><text x=".5" y="3.2">10</text></g>
<g transform="translate(301.9 922.0) rotate(31)"><circle r="4.35"/><text x=".5" y="3.2">11</text></g>
<g transform="translate(310.3 917.1) rotate(29)"><circle r="4.35"/><text x=".5" y="3.2">12</text></g>
<g transform="translate(318.9 912.5) rotate(27)"><circle r="4.35"/><text x=".5" y="3.2">13</text></g>
<g transform="translate(336.3 904.7) rotate(22)"><circle r="4.35"/><text x=".5" y="3.2">14</text></g>
<g transform="translate(345.3 901.3) rotate(19)"><circle r="4.35"/><text x=".5" y="3.2">15</text></g>
<g transform="translate(354.5 898.3) rotate(17)"><circle r="4.35"/><text x=".5" y="3.2">16</text></g>
<g transform="translate(363.9 895.7) rotate(15)"><circle r="4.35"/><text x=".5" y="3.2">17</text></g>
<g transform="translate(373.3 893.4) rotate(12)"><circle r="4.35"/><text x=".5" y="3.2">18</text></g>
<g transform="translate(382.8 891.6) rotate(10)"><circle r="4.35"/><text x=".5" y="3.2">19</text></g>
<g transform="translate(392.4 890.1) rotate(7)"><circle r="4.35"/><text x=".5" y="3.2">20</text></g>
<g transform="translate(402.0 889.1) rotate(5)"><circle r="4.35"/><text x=".5" y="3.2">21</text></g>
<g transform="translate(411.7 888.5) rotate(2)"><circle r="4.35"/><text x=".5" y="3.2">22</text></g>
<g transform="translate(431.1 888.5) rotate(-2)"><circle r="4.35"/><text x=".5" y="3.2">23</text></g>
<g transform="translate(440.8 889.1) rotate(-5)"><circle r="4.35"/><text x=".5" y="3.2">24</text></g>
<g transform="translate(450.4 890.1) rotate(-7)"><circle r="4.35"/><text x=".5" y="3.2">25</text></g>
<g transform="translate(460.0 891.6) rotate(-10)"><circle r="4.35"/><text x=".5" y="3.2">26</text></g>
<g transform="translate(469.5 893.4) rotate(-12)"><circle r="4.35"/><text x=".5" y="3.2">27</text></g>
<g transform="translate(478.9 895.7) rotate(-15)"><circle r="4.35"/><text x=".5" y="3.2">28</text></g>
<g transform="translate(488.3 898.3) rotate(-17)"><circle r="4.35"/><text x=".5" y="3.2">29</text></g>
<g transform="translate(497.5 901.3) rotate(-19)"><circle r="4.35"/><text x=".5" y="3.2">30</text></g>
<g transform="translate(506.5 904.7) rotate(-22)"><circle r="4.35"/><text x=".5" y="3.2">31</text></g>
<g transform="translate(523.9 912.5) rotate(-27)"><circle r="4.35"/><text x=".5" y="3.2">32</text></g>
<g transform="translate(532.5 917.1) rotate(-29)"><circle r="4.35"/><text x=".5" y="3.2">33</text></g>
<g transform="translate(540.9 922.0) rotate(-31)"><circle r="4.35"/><text x=".5" y="3.2">34</text></g>
<g transform="translate(549.1 927.2) rotate(-34)"><circle r="4.35"/><text x=".5" y="3.2">35</text></g>
<g transform="translate(557.1 932.9) rotate(-36)"><circle r="4.35"/><text x=".5" y="3.2">36</text></g>
<g transform="translate(564.8 938.8) rotate(-39)"><circle r="4.35"/><text x=".5" y="3.2">37</text></g>
<g transform="translate(572.2 945.0) rotate(-41)"><circle r="4.35"/><text x=".5" y="3.2">38</text></g>
<g transform="translate(586.5 958.7) rotate(-46)"><circle r="4.35"/><text x=".5" y="3.2">39</text></g>
<g transform="translate(593.0 965.8) rotate(-49)"><circle r="4.35"/><text x=".5" y="3.2">40</text></g>
<g transform="translate(599.2 973.2) rotate(-51)"><circle r="4.35"/><text x=".5" y="3.2">41</text></g>
<g transform="translate(605.2 980.8) rotate(-53)"><circle r="4.35"/><text x=".5" y="3.2">42</text></g>
<g transform="translate(610.8 988.7) rotate(-56)"><circle r="4.35"/><text x=".5" y="3.2">43</text></g>
<g transform="translate(616.0 996.8) rotate(-58)"><circle r="4.35"/><text x=".5" y="3.2">44</text></g>
<g transform="translate(253.8 990.7) rotate(53)"><circle r="4.35"/><text class="o" x=".4" y="3.7">1</text></g>
<g transform="translate(259.8 983.1) rotate(50)"><circle r="4.35"/><text class="o" x=".4" y="3.7">2</text></g>
<g transform="translate(266.1 975.8) rotate(48)"><circle r="4.35"/><text class="o" x=".4" y="3.7">3</text></g>
<g transform="translate(272.8 968.8) rotate(45)"><circle r="4.35"/><text class="o" x=".4" y="3.7">4</text></g>
<g transform="translate(285.5 957.1) rotate(40)"><circle r="4.35"/><text class="o" x=".4" y="3.7">5</text></g>
<g transform="translate(292.7 951.3) rotate(38)"><circle r="4.35"/><text class="o" x=".4" y="3.7">6</text></g>
<g transform="translate(300.1 945.7) rotate(35)"><circle r="4.35"/><text class="o" x=".4" y="3.7">7</text></g>
<g transform="translate(307.8 940.6) rotate(33)"><circle r="4.35"/><text class="o" x=".4" y="3.7">8</text></g>
<g transform="translate(315.7 935.7) rotate(30)"><circle r="4.35"/><text class="o" x=".4" y="3.7">9</text></g>
<g transform="translate(323.7 931.3) rotate(28)"><circle r="4.35"/><text x=".5" y="3.2">10</text></g>
<g transform="translate(340.4 923.4) rotate(23)"><circle r="4.35"/><text x=".5" y="3.2">11</text></g>
<g transform="translate(349.2 920.0) rotate(20)"><circle r="4.35"/><text x=".5" y="3.2">12</text></g>
<g transform="translate(358.0 917.0) rotate(18)"><circle r="4.35"/><text x=".5" y="3.2">13</text></g>
<g transform="translate(367.0 914.3) rotate(15)"><circle r="4.35"/><text x=".5" y="3.2">14</text></g>
<g transform="translate(376.2 912.1) rotate(12)"><circle r="4.35"/><text x=".5" y="3.2">15</text></g>
<g transform="translate(385.4 910.3) rotate(10)"><circle r="4.35"/><text x=".5" y="3.2">16</text></g>
<g transform="translate(394.6 908.9) rotate(7)"><circle r="4.35"/><text x=".5" y="3.2">17</text></g>
<g transform="translate(403.9 907.9) rotate(5)"><circle r="4.35"/><text x=".5" y="3.2">18</text></g>
<g transform="translate(438.9 907.9) rotate(-5)"><circle r="4.35"/><text x=".5" y="3.2">19</text></g>
<g transform="translate(448.2 908.9) rotate(-7)"><circle r="4.35"/><text x=".5" y="3.2">20</text></g>
<g transform="translate(457.4 910.3) rotate(-10)"><circle r="4.35"/><text x=".5" y="3.2">21</text></g>
<g transform="translate(466.6 912.1) rotate(-12)"><circle r="4.35"/><text x=".5" y="3.2">22</text></g>
<g transform="translate(475.8 914.3) rotate(-15)"><circle r="4.35"/><text x=".5" y="3.2">23</text></g>
<g transform="translate(484.8 917.0) rotate(-18)"><circle r="4.35"/><text x=".5" y="3.2">24</text></g>
<g transform="translate(493.6 920.0) rotate(-20)"><circle r="4.35"/><text x=".5" y="3.2">25</text></g>
<g transform="translate(502.4 923.4) rotate(-23)"><circle r="4.35"/><text x=".5" y="3.2">26</text></g>
<g transform="translate(519.1 931.3) rotate(-28)"><circle r="4.35"/><text x=".5" y="3.2">27</text></g>
<g transform="translate(527.1 935.7) rotate(-30)"><circle r="4.35"/><text x=".5" y="3.2">28</text></g>
<g transform="translate(535.0 940.6) rotate(-33)"><circle r="4.35"/><text x=".5" y="3.2">29</text></g>
<g transform="translate(542.7 945.7) rotate(-35)"><circle r="4.35"/><text x=".5" y="3.2">30</text></g>
<g transform="translate(550.1 951.3) rotate(-38)"><circle r="4.35"/><text x=".5" y="3.2">31</text></g>
<g transform="translate(557.3 957.1) rotate(-40)"><circle r="4.35"/><text x=".5" y="3.2">32</text></g>
<g transform="translate(570.0 968.8) rotate(-45)"><circle r="4.35"/><text x=".5" y="3.2">33</text></g>
<g transform="translate(576.7 975.8) rotate(-48)"><circle r="4.35"/><text x=".5" y="3.2">34</text></g>
<g transform="translate(583.0 983.1) rotate(-50)"><circle r="4.35"/><text x=".5" y="3.2">35</text></g>
<g transform="translate(589.0 990.7) rotate(-53)"><circle r="4.35"/><text x=".5" y="3.2">36</text></g>
</g>
</svg>
</body></html>
